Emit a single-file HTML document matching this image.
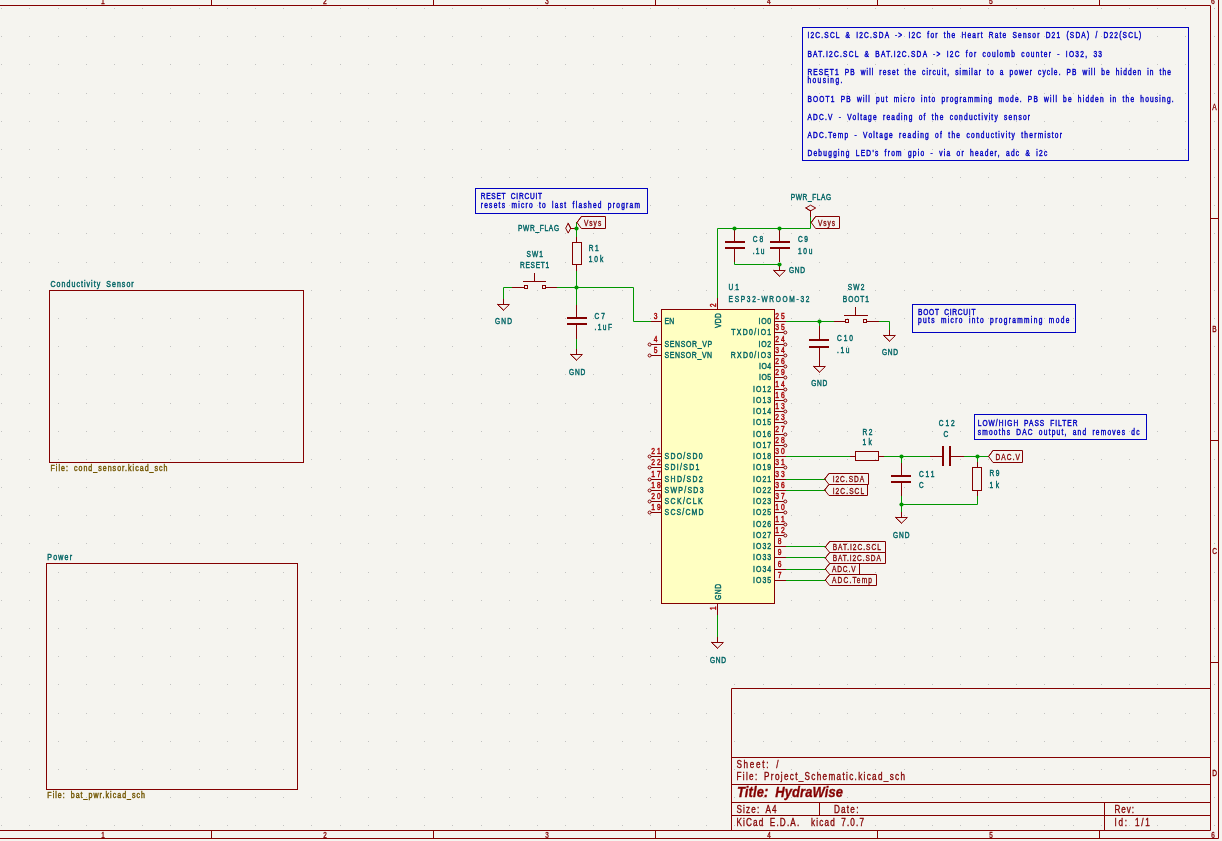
<!DOCTYPE html><html><head><meta charset="utf-8"><style>html,body{margin:0;padding:0;background:#F5F4EF;overflow:hidden}svg{display:block}text{font-family:"Liberation Sans",sans-serif}</style></head><body><div style="will-change:transform"><svg width="1222" height="841" viewBox="0 0 1222 841" font-family="Liberation Sans, sans-serif">
<rect width="1222" height="841" fill="#F5F4EF"/>
<path d="M1 8h1v1h-1zM1 36h1v1h-1zM1 64h1v1h-1zM1 93h1v1h-1zM1 121h1v1h-1zM1 149h1v1h-1zM1 177h1v1h-1zM1 205h1v1h-1zM1 233h1v1h-1zM1 262h1v1h-1zM1 290h1v1h-1zM1 318h1v1h-1zM1 346h1v1h-1zM1 374h1v1h-1zM1 403h1v1h-1zM1 431h1v1h-1zM1 459h1v1h-1zM1 487h1v1h-1zM1 515h1v1h-1zM1 543h1v1h-1zM1 572h1v1h-1zM1 600h1v1h-1zM1 628h1v1h-1zM1 656h1v1h-1zM1 684h1v1h-1zM1 713h1v1h-1zM1 741h1v1h-1zM1 769h1v1h-1zM1 797h1v1h-1zM1 825h1v1h-1zM29 8h1v1h-1zM29 36h1v1h-1zM29 64h1v1h-1zM29 93h1v1h-1zM29 121h1v1h-1zM29 149h1v1h-1zM29 177h1v1h-1zM29 205h1v1h-1zM29 233h1v1h-1zM29 262h1v1h-1zM29 290h1v1h-1zM29 318h1v1h-1zM29 346h1v1h-1zM29 374h1v1h-1zM29 403h1v1h-1zM29 431h1v1h-1zM29 459h1v1h-1zM29 487h1v1h-1zM29 515h1v1h-1zM29 543h1v1h-1zM29 572h1v1h-1zM29 600h1v1h-1zM29 628h1v1h-1zM29 656h1v1h-1zM29 684h1v1h-1zM29 713h1v1h-1zM29 741h1v1h-1zM29 769h1v1h-1zM29 797h1v1h-1zM29 825h1v1h-1zM58 8h1v1h-1zM58 36h1v1h-1zM58 64h1v1h-1zM58 93h1v1h-1zM58 121h1v1h-1zM58 149h1v1h-1zM58 177h1v1h-1zM58 205h1v1h-1zM58 233h1v1h-1zM58 262h1v1h-1zM58 290h1v1h-1zM58 318h1v1h-1zM58 346h1v1h-1zM58 374h1v1h-1zM58 403h1v1h-1zM58 431h1v1h-1zM58 459h1v1h-1zM58 487h1v1h-1zM58 515h1v1h-1zM58 543h1v1h-1zM58 572h1v1h-1zM58 600h1v1h-1zM58 628h1v1h-1zM58 656h1v1h-1zM58 684h1v1h-1zM58 713h1v1h-1zM58 741h1v1h-1zM58 769h1v1h-1zM58 797h1v1h-1zM58 825h1v1h-1zM86 8h1v1h-1zM86 36h1v1h-1zM86 64h1v1h-1zM86 93h1v1h-1zM86 121h1v1h-1zM86 149h1v1h-1zM86 177h1v1h-1zM86 205h1v1h-1zM86 233h1v1h-1zM86 262h1v1h-1zM86 290h1v1h-1zM86 318h1v1h-1zM86 346h1v1h-1zM86 374h1v1h-1zM86 403h1v1h-1zM86 431h1v1h-1zM86 459h1v1h-1zM86 487h1v1h-1zM86 515h1v1h-1zM86 543h1v1h-1zM86 572h1v1h-1zM86 600h1v1h-1zM86 628h1v1h-1zM86 656h1v1h-1zM86 684h1v1h-1zM86 713h1v1h-1zM86 741h1v1h-1zM86 769h1v1h-1zM86 797h1v1h-1zM86 825h1v1h-1zM114 8h1v1h-1zM114 36h1v1h-1zM114 64h1v1h-1zM114 93h1v1h-1zM114 121h1v1h-1zM114 149h1v1h-1zM114 177h1v1h-1zM114 205h1v1h-1zM114 233h1v1h-1zM114 262h1v1h-1zM114 290h1v1h-1zM114 318h1v1h-1zM114 346h1v1h-1zM114 374h1v1h-1zM114 403h1v1h-1zM114 431h1v1h-1zM114 459h1v1h-1zM114 487h1v1h-1zM114 515h1v1h-1zM114 543h1v1h-1zM114 572h1v1h-1zM114 600h1v1h-1zM114 628h1v1h-1zM114 656h1v1h-1zM114 684h1v1h-1zM114 713h1v1h-1zM114 741h1v1h-1zM114 769h1v1h-1zM114 797h1v1h-1zM114 825h1v1h-1zM142 8h1v1h-1zM142 36h1v1h-1zM142 64h1v1h-1zM142 93h1v1h-1zM142 121h1v1h-1zM142 149h1v1h-1zM142 177h1v1h-1zM142 205h1v1h-1zM142 233h1v1h-1zM142 262h1v1h-1zM142 290h1v1h-1zM142 318h1v1h-1zM142 346h1v1h-1zM142 374h1v1h-1zM142 403h1v1h-1zM142 431h1v1h-1zM142 459h1v1h-1zM142 487h1v1h-1zM142 515h1v1h-1zM142 543h1v1h-1zM142 572h1v1h-1zM142 600h1v1h-1zM142 628h1v1h-1zM142 656h1v1h-1zM142 684h1v1h-1zM142 713h1v1h-1zM142 741h1v1h-1zM142 769h1v1h-1zM142 797h1v1h-1zM142 825h1v1h-1zM170 8h1v1h-1zM170 36h1v1h-1zM170 64h1v1h-1zM170 93h1v1h-1zM170 121h1v1h-1zM170 149h1v1h-1zM170 177h1v1h-1zM170 205h1v1h-1zM170 233h1v1h-1zM170 262h1v1h-1zM170 290h1v1h-1zM170 318h1v1h-1zM170 346h1v1h-1zM170 374h1v1h-1zM170 403h1v1h-1zM170 431h1v1h-1zM170 459h1v1h-1zM170 487h1v1h-1zM170 515h1v1h-1zM170 543h1v1h-1zM170 572h1v1h-1zM170 600h1v1h-1zM170 628h1v1h-1zM170 656h1v1h-1zM170 684h1v1h-1zM170 713h1v1h-1zM170 741h1v1h-1zM170 769h1v1h-1zM170 797h1v1h-1zM170 825h1v1h-1zM199 8h1v1h-1zM199 36h1v1h-1zM199 64h1v1h-1zM199 93h1v1h-1zM199 121h1v1h-1zM199 149h1v1h-1zM199 177h1v1h-1zM199 205h1v1h-1zM199 233h1v1h-1zM199 262h1v1h-1zM199 290h1v1h-1zM199 318h1v1h-1zM199 346h1v1h-1zM199 374h1v1h-1zM199 403h1v1h-1zM199 431h1v1h-1zM199 459h1v1h-1zM199 487h1v1h-1zM199 515h1v1h-1zM199 543h1v1h-1zM199 572h1v1h-1zM199 600h1v1h-1zM199 628h1v1h-1zM199 656h1v1h-1zM199 684h1v1h-1zM199 713h1v1h-1zM199 741h1v1h-1zM199 769h1v1h-1zM199 797h1v1h-1zM199 825h1v1h-1zM227 8h1v1h-1zM227 36h1v1h-1zM227 64h1v1h-1zM227 93h1v1h-1zM227 121h1v1h-1zM227 149h1v1h-1zM227 177h1v1h-1zM227 205h1v1h-1zM227 233h1v1h-1zM227 262h1v1h-1zM227 290h1v1h-1zM227 318h1v1h-1zM227 346h1v1h-1zM227 374h1v1h-1zM227 403h1v1h-1zM227 431h1v1h-1zM227 459h1v1h-1zM227 487h1v1h-1zM227 515h1v1h-1zM227 543h1v1h-1zM227 572h1v1h-1zM227 600h1v1h-1zM227 628h1v1h-1zM227 656h1v1h-1zM227 684h1v1h-1zM227 713h1v1h-1zM227 741h1v1h-1zM227 769h1v1h-1zM227 797h1v1h-1zM227 825h1v1h-1zM255 8h1v1h-1zM255 36h1v1h-1zM255 64h1v1h-1zM255 93h1v1h-1zM255 121h1v1h-1zM255 149h1v1h-1zM255 177h1v1h-1zM255 205h1v1h-1zM255 233h1v1h-1zM255 262h1v1h-1zM255 290h1v1h-1zM255 318h1v1h-1zM255 346h1v1h-1zM255 374h1v1h-1zM255 403h1v1h-1zM255 431h1v1h-1zM255 459h1v1h-1zM255 487h1v1h-1zM255 515h1v1h-1zM255 543h1v1h-1zM255 572h1v1h-1zM255 600h1v1h-1zM255 628h1v1h-1zM255 656h1v1h-1zM255 684h1v1h-1zM255 713h1v1h-1zM255 741h1v1h-1zM255 769h1v1h-1zM255 797h1v1h-1zM255 825h1v1h-1zM283 8h1v1h-1zM283 36h1v1h-1zM283 64h1v1h-1zM283 93h1v1h-1zM283 121h1v1h-1zM283 149h1v1h-1zM283 177h1v1h-1zM283 205h1v1h-1zM283 233h1v1h-1zM283 262h1v1h-1zM283 290h1v1h-1zM283 318h1v1h-1zM283 346h1v1h-1zM283 374h1v1h-1zM283 403h1v1h-1zM283 431h1v1h-1zM283 459h1v1h-1zM283 487h1v1h-1zM283 515h1v1h-1zM283 543h1v1h-1zM283 572h1v1h-1zM283 600h1v1h-1zM283 628h1v1h-1zM283 656h1v1h-1zM283 684h1v1h-1zM283 713h1v1h-1zM283 741h1v1h-1zM283 769h1v1h-1zM283 797h1v1h-1zM283 825h1v1h-1zM311 8h1v1h-1zM311 36h1v1h-1zM311 64h1v1h-1zM311 93h1v1h-1zM311 121h1v1h-1zM311 149h1v1h-1zM311 177h1v1h-1zM311 205h1v1h-1zM311 233h1v1h-1zM311 262h1v1h-1zM311 290h1v1h-1zM311 318h1v1h-1zM311 346h1v1h-1zM311 374h1v1h-1zM311 403h1v1h-1zM311 431h1v1h-1zM311 459h1v1h-1zM311 487h1v1h-1zM311 515h1v1h-1zM311 543h1v1h-1zM311 572h1v1h-1zM311 600h1v1h-1zM311 628h1v1h-1zM311 656h1v1h-1zM311 684h1v1h-1zM311 713h1v1h-1zM311 741h1v1h-1zM311 769h1v1h-1zM311 797h1v1h-1zM311 825h1v1h-1zM340 8h1v1h-1zM340 36h1v1h-1zM340 64h1v1h-1zM340 93h1v1h-1zM340 121h1v1h-1zM340 149h1v1h-1zM340 177h1v1h-1zM340 205h1v1h-1zM340 233h1v1h-1zM340 262h1v1h-1zM340 290h1v1h-1zM340 318h1v1h-1zM340 346h1v1h-1zM340 374h1v1h-1zM340 403h1v1h-1zM340 431h1v1h-1zM340 459h1v1h-1zM340 487h1v1h-1zM340 515h1v1h-1zM340 543h1v1h-1zM340 572h1v1h-1zM340 600h1v1h-1zM340 628h1v1h-1zM340 656h1v1h-1zM340 684h1v1h-1zM340 713h1v1h-1zM340 741h1v1h-1zM340 769h1v1h-1zM340 797h1v1h-1zM340 825h1v1h-1zM368 8h1v1h-1zM368 36h1v1h-1zM368 64h1v1h-1zM368 93h1v1h-1zM368 121h1v1h-1zM368 149h1v1h-1zM368 177h1v1h-1zM368 205h1v1h-1zM368 233h1v1h-1zM368 262h1v1h-1zM368 290h1v1h-1zM368 318h1v1h-1zM368 346h1v1h-1zM368 374h1v1h-1zM368 403h1v1h-1zM368 431h1v1h-1zM368 459h1v1h-1zM368 487h1v1h-1zM368 515h1v1h-1zM368 543h1v1h-1zM368 572h1v1h-1zM368 600h1v1h-1zM368 628h1v1h-1zM368 656h1v1h-1zM368 684h1v1h-1zM368 713h1v1h-1zM368 741h1v1h-1zM368 769h1v1h-1zM368 797h1v1h-1zM368 825h1v1h-1zM396 8h1v1h-1zM396 36h1v1h-1zM396 64h1v1h-1zM396 93h1v1h-1zM396 121h1v1h-1zM396 149h1v1h-1zM396 177h1v1h-1zM396 205h1v1h-1zM396 233h1v1h-1zM396 262h1v1h-1zM396 290h1v1h-1zM396 318h1v1h-1zM396 346h1v1h-1zM396 374h1v1h-1zM396 403h1v1h-1zM396 431h1v1h-1zM396 459h1v1h-1zM396 487h1v1h-1zM396 515h1v1h-1zM396 543h1v1h-1zM396 572h1v1h-1zM396 600h1v1h-1zM396 628h1v1h-1zM396 656h1v1h-1zM396 684h1v1h-1zM396 713h1v1h-1zM396 741h1v1h-1zM396 769h1v1h-1zM396 797h1v1h-1zM396 825h1v1h-1zM424 8h1v1h-1zM424 36h1v1h-1zM424 64h1v1h-1zM424 93h1v1h-1zM424 121h1v1h-1zM424 149h1v1h-1zM424 177h1v1h-1zM424 205h1v1h-1zM424 233h1v1h-1zM424 262h1v1h-1zM424 290h1v1h-1zM424 318h1v1h-1zM424 346h1v1h-1zM424 374h1v1h-1zM424 403h1v1h-1zM424 431h1v1h-1zM424 459h1v1h-1zM424 487h1v1h-1zM424 515h1v1h-1zM424 543h1v1h-1zM424 572h1v1h-1zM424 600h1v1h-1zM424 628h1v1h-1zM424 656h1v1h-1zM424 684h1v1h-1zM424 713h1v1h-1zM424 741h1v1h-1zM424 769h1v1h-1zM424 797h1v1h-1zM424 825h1v1h-1zM452 8h1v1h-1zM452 36h1v1h-1zM452 64h1v1h-1zM452 93h1v1h-1zM452 121h1v1h-1zM452 149h1v1h-1zM452 177h1v1h-1zM452 205h1v1h-1zM452 233h1v1h-1zM452 262h1v1h-1zM452 290h1v1h-1zM452 318h1v1h-1zM452 346h1v1h-1zM452 374h1v1h-1zM452 403h1v1h-1zM452 431h1v1h-1zM452 459h1v1h-1zM452 487h1v1h-1zM452 515h1v1h-1zM452 543h1v1h-1zM452 572h1v1h-1zM452 600h1v1h-1zM452 628h1v1h-1zM452 656h1v1h-1zM452 684h1v1h-1zM452 713h1v1h-1zM452 741h1v1h-1zM452 769h1v1h-1zM452 797h1v1h-1zM452 825h1v1h-1zM481 8h1v1h-1zM481 36h1v1h-1zM481 64h1v1h-1zM481 93h1v1h-1zM481 121h1v1h-1zM481 149h1v1h-1zM481 177h1v1h-1zM481 205h1v1h-1zM481 233h1v1h-1zM481 262h1v1h-1zM481 290h1v1h-1zM481 318h1v1h-1zM481 346h1v1h-1zM481 374h1v1h-1zM481 403h1v1h-1zM481 431h1v1h-1zM481 459h1v1h-1zM481 487h1v1h-1zM481 515h1v1h-1zM481 543h1v1h-1zM481 572h1v1h-1zM481 600h1v1h-1zM481 628h1v1h-1zM481 656h1v1h-1zM481 684h1v1h-1zM481 713h1v1h-1zM481 741h1v1h-1zM481 769h1v1h-1zM481 797h1v1h-1zM481 825h1v1h-1zM509 8h1v1h-1zM509 36h1v1h-1zM509 64h1v1h-1zM509 93h1v1h-1zM509 121h1v1h-1zM509 149h1v1h-1zM509 177h1v1h-1zM509 205h1v1h-1zM509 233h1v1h-1zM509 262h1v1h-1zM509 290h1v1h-1zM509 318h1v1h-1zM509 346h1v1h-1zM509 374h1v1h-1zM509 403h1v1h-1zM509 431h1v1h-1zM509 459h1v1h-1zM509 487h1v1h-1zM509 515h1v1h-1zM509 543h1v1h-1zM509 572h1v1h-1zM509 600h1v1h-1zM509 628h1v1h-1zM509 656h1v1h-1zM509 684h1v1h-1zM509 713h1v1h-1zM509 741h1v1h-1zM509 769h1v1h-1zM509 797h1v1h-1zM509 825h1v1h-1zM537 8h1v1h-1zM537 36h1v1h-1zM537 64h1v1h-1zM537 93h1v1h-1zM537 121h1v1h-1zM537 149h1v1h-1zM537 177h1v1h-1zM537 205h1v1h-1zM537 233h1v1h-1zM537 262h1v1h-1zM537 290h1v1h-1zM537 318h1v1h-1zM537 346h1v1h-1zM537 374h1v1h-1zM537 403h1v1h-1zM537 431h1v1h-1zM537 459h1v1h-1zM537 487h1v1h-1zM537 515h1v1h-1zM537 543h1v1h-1zM537 572h1v1h-1zM537 600h1v1h-1zM537 628h1v1h-1zM537 656h1v1h-1zM537 684h1v1h-1zM537 713h1v1h-1zM537 741h1v1h-1zM537 769h1v1h-1zM537 797h1v1h-1zM537 825h1v1h-1zM565 8h1v1h-1zM565 36h1v1h-1zM565 64h1v1h-1zM565 93h1v1h-1zM565 121h1v1h-1zM565 149h1v1h-1zM565 177h1v1h-1zM565 205h1v1h-1zM565 233h1v1h-1zM565 262h1v1h-1zM565 290h1v1h-1zM565 318h1v1h-1zM565 346h1v1h-1zM565 374h1v1h-1zM565 403h1v1h-1zM565 431h1v1h-1zM565 459h1v1h-1zM565 487h1v1h-1zM565 515h1v1h-1zM565 543h1v1h-1zM565 572h1v1h-1zM565 600h1v1h-1zM565 628h1v1h-1zM565 656h1v1h-1zM565 684h1v1h-1zM565 713h1v1h-1zM565 741h1v1h-1zM565 769h1v1h-1zM565 797h1v1h-1zM565 825h1v1h-1zM593 8h1v1h-1zM593 36h1v1h-1zM593 64h1v1h-1zM593 93h1v1h-1zM593 121h1v1h-1zM593 149h1v1h-1zM593 177h1v1h-1zM593 205h1v1h-1zM593 233h1v1h-1zM593 262h1v1h-1zM593 290h1v1h-1zM593 318h1v1h-1zM593 346h1v1h-1zM593 374h1v1h-1zM593 403h1v1h-1zM593 431h1v1h-1zM593 459h1v1h-1zM593 487h1v1h-1zM593 515h1v1h-1zM593 543h1v1h-1zM593 572h1v1h-1zM593 600h1v1h-1zM593 628h1v1h-1zM593 656h1v1h-1zM593 684h1v1h-1zM593 713h1v1h-1zM593 741h1v1h-1zM593 769h1v1h-1zM593 797h1v1h-1zM593 825h1v1h-1zM622 8h1v1h-1zM622 36h1v1h-1zM622 64h1v1h-1zM622 93h1v1h-1zM622 121h1v1h-1zM622 149h1v1h-1zM622 177h1v1h-1zM622 205h1v1h-1zM622 233h1v1h-1zM622 262h1v1h-1zM622 290h1v1h-1zM622 318h1v1h-1zM622 346h1v1h-1zM622 374h1v1h-1zM622 403h1v1h-1zM622 431h1v1h-1zM622 459h1v1h-1zM622 487h1v1h-1zM622 515h1v1h-1zM622 543h1v1h-1zM622 572h1v1h-1zM622 600h1v1h-1zM622 628h1v1h-1zM622 656h1v1h-1zM622 684h1v1h-1zM622 713h1v1h-1zM622 741h1v1h-1zM622 769h1v1h-1zM622 797h1v1h-1zM622 825h1v1h-1zM650 8h1v1h-1zM650 36h1v1h-1zM650 64h1v1h-1zM650 93h1v1h-1zM650 121h1v1h-1zM650 149h1v1h-1zM650 177h1v1h-1zM650 205h1v1h-1zM650 233h1v1h-1zM650 262h1v1h-1zM650 290h1v1h-1zM650 318h1v1h-1zM650 346h1v1h-1zM650 374h1v1h-1zM650 403h1v1h-1zM650 431h1v1h-1zM650 459h1v1h-1zM650 487h1v1h-1zM650 515h1v1h-1zM650 543h1v1h-1zM650 572h1v1h-1zM650 600h1v1h-1zM650 628h1v1h-1zM650 656h1v1h-1zM650 684h1v1h-1zM650 713h1v1h-1zM650 741h1v1h-1zM650 769h1v1h-1zM650 797h1v1h-1zM650 825h1v1h-1zM678 8h1v1h-1zM678 36h1v1h-1zM678 64h1v1h-1zM678 93h1v1h-1zM678 121h1v1h-1zM678 149h1v1h-1zM678 177h1v1h-1zM678 205h1v1h-1zM678 233h1v1h-1zM678 262h1v1h-1zM678 290h1v1h-1zM678 318h1v1h-1zM678 346h1v1h-1zM678 374h1v1h-1zM678 403h1v1h-1zM678 431h1v1h-1zM678 459h1v1h-1zM678 487h1v1h-1zM678 515h1v1h-1zM678 543h1v1h-1zM678 572h1v1h-1zM678 600h1v1h-1zM678 628h1v1h-1zM678 656h1v1h-1zM678 684h1v1h-1zM678 713h1v1h-1zM678 741h1v1h-1zM678 769h1v1h-1zM678 797h1v1h-1zM678 825h1v1h-1zM706 8h1v1h-1zM706 36h1v1h-1zM706 64h1v1h-1zM706 93h1v1h-1zM706 121h1v1h-1zM706 149h1v1h-1zM706 177h1v1h-1zM706 205h1v1h-1zM706 233h1v1h-1zM706 262h1v1h-1zM706 290h1v1h-1zM706 318h1v1h-1zM706 346h1v1h-1zM706 374h1v1h-1zM706 403h1v1h-1zM706 431h1v1h-1zM706 459h1v1h-1zM706 487h1v1h-1zM706 515h1v1h-1zM706 543h1v1h-1zM706 572h1v1h-1zM706 600h1v1h-1zM706 628h1v1h-1zM706 656h1v1h-1zM706 684h1v1h-1zM706 713h1v1h-1zM706 741h1v1h-1zM706 769h1v1h-1zM706 797h1v1h-1zM706 825h1v1h-1zM734 8h1v1h-1zM734 36h1v1h-1zM734 64h1v1h-1zM734 93h1v1h-1zM734 121h1v1h-1zM734 149h1v1h-1zM734 177h1v1h-1zM734 205h1v1h-1zM734 233h1v1h-1zM734 262h1v1h-1zM734 290h1v1h-1zM734 318h1v1h-1zM734 346h1v1h-1zM734 374h1v1h-1zM734 403h1v1h-1zM734 431h1v1h-1zM734 459h1v1h-1zM734 487h1v1h-1zM734 515h1v1h-1zM734 543h1v1h-1zM734 572h1v1h-1zM734 600h1v1h-1zM734 628h1v1h-1zM734 656h1v1h-1zM734 684h1v1h-1zM734 713h1v1h-1zM734 741h1v1h-1zM734 769h1v1h-1zM734 797h1v1h-1zM734 825h1v1h-1zM763 8h1v1h-1zM763 36h1v1h-1zM763 64h1v1h-1zM763 93h1v1h-1zM763 121h1v1h-1zM763 149h1v1h-1zM763 177h1v1h-1zM763 205h1v1h-1zM763 233h1v1h-1zM763 262h1v1h-1zM763 290h1v1h-1zM763 318h1v1h-1zM763 346h1v1h-1zM763 374h1v1h-1zM763 403h1v1h-1zM763 431h1v1h-1zM763 459h1v1h-1zM763 487h1v1h-1zM763 515h1v1h-1zM763 543h1v1h-1zM763 572h1v1h-1zM763 600h1v1h-1zM763 628h1v1h-1zM763 656h1v1h-1zM763 684h1v1h-1zM763 713h1v1h-1zM763 741h1v1h-1zM763 769h1v1h-1zM763 797h1v1h-1zM763 825h1v1h-1zM791 8h1v1h-1zM791 36h1v1h-1zM791 64h1v1h-1zM791 93h1v1h-1zM791 121h1v1h-1zM791 149h1v1h-1zM791 177h1v1h-1zM791 205h1v1h-1zM791 233h1v1h-1zM791 262h1v1h-1zM791 290h1v1h-1zM791 318h1v1h-1zM791 346h1v1h-1zM791 374h1v1h-1zM791 403h1v1h-1zM791 431h1v1h-1zM791 459h1v1h-1zM791 487h1v1h-1zM791 515h1v1h-1zM791 543h1v1h-1zM791 572h1v1h-1zM791 600h1v1h-1zM791 628h1v1h-1zM791 656h1v1h-1zM791 684h1v1h-1zM791 713h1v1h-1zM791 741h1v1h-1zM791 769h1v1h-1zM791 797h1v1h-1zM791 825h1v1h-1zM819 8h1v1h-1zM819 36h1v1h-1zM819 64h1v1h-1zM819 93h1v1h-1zM819 121h1v1h-1zM819 149h1v1h-1zM819 177h1v1h-1zM819 205h1v1h-1zM819 233h1v1h-1zM819 262h1v1h-1zM819 290h1v1h-1zM819 318h1v1h-1zM819 346h1v1h-1zM819 374h1v1h-1zM819 403h1v1h-1zM819 431h1v1h-1zM819 459h1v1h-1zM819 487h1v1h-1zM819 515h1v1h-1zM819 543h1v1h-1zM819 572h1v1h-1zM819 600h1v1h-1zM819 628h1v1h-1zM819 656h1v1h-1zM819 684h1v1h-1zM819 713h1v1h-1zM819 741h1v1h-1zM819 769h1v1h-1zM819 797h1v1h-1zM819 825h1v1h-1zM847 8h1v1h-1zM847 36h1v1h-1zM847 64h1v1h-1zM847 93h1v1h-1zM847 121h1v1h-1zM847 149h1v1h-1zM847 177h1v1h-1zM847 205h1v1h-1zM847 233h1v1h-1zM847 262h1v1h-1zM847 290h1v1h-1zM847 318h1v1h-1zM847 346h1v1h-1zM847 374h1v1h-1zM847 403h1v1h-1zM847 431h1v1h-1zM847 459h1v1h-1zM847 487h1v1h-1zM847 515h1v1h-1zM847 543h1v1h-1zM847 572h1v1h-1zM847 600h1v1h-1zM847 628h1v1h-1zM847 656h1v1h-1zM847 684h1v1h-1zM847 713h1v1h-1zM847 741h1v1h-1zM847 769h1v1h-1zM847 797h1v1h-1zM847 825h1v1h-1zM875 8h1v1h-1zM875 36h1v1h-1zM875 64h1v1h-1zM875 93h1v1h-1zM875 121h1v1h-1zM875 149h1v1h-1zM875 177h1v1h-1zM875 205h1v1h-1zM875 233h1v1h-1zM875 262h1v1h-1zM875 290h1v1h-1zM875 318h1v1h-1zM875 346h1v1h-1zM875 374h1v1h-1zM875 403h1v1h-1zM875 431h1v1h-1zM875 459h1v1h-1zM875 487h1v1h-1zM875 515h1v1h-1zM875 543h1v1h-1zM875 572h1v1h-1zM875 600h1v1h-1zM875 628h1v1h-1zM875 656h1v1h-1zM875 684h1v1h-1zM875 713h1v1h-1zM875 741h1v1h-1zM875 769h1v1h-1zM875 797h1v1h-1zM875 825h1v1h-1zM904 8h1v1h-1zM904 36h1v1h-1zM904 64h1v1h-1zM904 93h1v1h-1zM904 121h1v1h-1zM904 149h1v1h-1zM904 177h1v1h-1zM904 205h1v1h-1zM904 233h1v1h-1zM904 262h1v1h-1zM904 290h1v1h-1zM904 318h1v1h-1zM904 346h1v1h-1zM904 374h1v1h-1zM904 403h1v1h-1zM904 431h1v1h-1zM904 459h1v1h-1zM904 487h1v1h-1zM904 515h1v1h-1zM904 543h1v1h-1zM904 572h1v1h-1zM904 600h1v1h-1zM904 628h1v1h-1zM904 656h1v1h-1zM904 684h1v1h-1zM904 713h1v1h-1zM904 741h1v1h-1zM904 769h1v1h-1zM904 797h1v1h-1zM904 825h1v1h-1zM932 8h1v1h-1zM932 36h1v1h-1zM932 64h1v1h-1zM932 93h1v1h-1zM932 121h1v1h-1zM932 149h1v1h-1zM932 177h1v1h-1zM932 205h1v1h-1zM932 233h1v1h-1zM932 262h1v1h-1zM932 290h1v1h-1zM932 318h1v1h-1zM932 346h1v1h-1zM932 374h1v1h-1zM932 403h1v1h-1zM932 431h1v1h-1zM932 459h1v1h-1zM932 487h1v1h-1zM932 515h1v1h-1zM932 543h1v1h-1zM932 572h1v1h-1zM932 600h1v1h-1zM932 628h1v1h-1zM932 656h1v1h-1zM932 684h1v1h-1zM932 713h1v1h-1zM932 741h1v1h-1zM932 769h1v1h-1zM932 797h1v1h-1zM932 825h1v1h-1zM960 8h1v1h-1zM960 36h1v1h-1zM960 64h1v1h-1zM960 93h1v1h-1zM960 121h1v1h-1zM960 149h1v1h-1zM960 177h1v1h-1zM960 205h1v1h-1zM960 233h1v1h-1zM960 262h1v1h-1zM960 290h1v1h-1zM960 318h1v1h-1zM960 346h1v1h-1zM960 374h1v1h-1zM960 403h1v1h-1zM960 431h1v1h-1zM960 459h1v1h-1zM960 487h1v1h-1zM960 515h1v1h-1zM960 543h1v1h-1zM960 572h1v1h-1zM960 600h1v1h-1zM960 628h1v1h-1zM960 656h1v1h-1zM960 684h1v1h-1zM960 713h1v1h-1zM960 741h1v1h-1zM960 769h1v1h-1zM960 797h1v1h-1zM960 825h1v1h-1zM988 8h1v1h-1zM988 36h1v1h-1zM988 64h1v1h-1zM988 93h1v1h-1zM988 121h1v1h-1zM988 149h1v1h-1zM988 177h1v1h-1zM988 205h1v1h-1zM988 233h1v1h-1zM988 262h1v1h-1zM988 290h1v1h-1zM988 318h1v1h-1zM988 346h1v1h-1zM988 374h1v1h-1zM988 403h1v1h-1zM988 431h1v1h-1zM988 459h1v1h-1zM988 487h1v1h-1zM988 515h1v1h-1zM988 543h1v1h-1zM988 572h1v1h-1zM988 600h1v1h-1zM988 628h1v1h-1zM988 656h1v1h-1zM988 684h1v1h-1zM988 713h1v1h-1zM988 741h1v1h-1zM988 769h1v1h-1zM988 797h1v1h-1zM988 825h1v1h-1zM1016 8h1v1h-1zM1016 36h1v1h-1zM1016 64h1v1h-1zM1016 93h1v1h-1zM1016 121h1v1h-1zM1016 149h1v1h-1zM1016 177h1v1h-1zM1016 205h1v1h-1zM1016 233h1v1h-1zM1016 262h1v1h-1zM1016 290h1v1h-1zM1016 318h1v1h-1zM1016 346h1v1h-1zM1016 374h1v1h-1zM1016 403h1v1h-1zM1016 431h1v1h-1zM1016 459h1v1h-1zM1016 487h1v1h-1zM1016 515h1v1h-1zM1016 543h1v1h-1zM1016 572h1v1h-1zM1016 600h1v1h-1zM1016 628h1v1h-1zM1016 656h1v1h-1zM1016 684h1v1h-1zM1016 713h1v1h-1zM1016 741h1v1h-1zM1016 769h1v1h-1zM1016 797h1v1h-1zM1016 825h1v1h-1zM1044 8h1v1h-1zM1044 36h1v1h-1zM1044 64h1v1h-1zM1044 93h1v1h-1zM1044 121h1v1h-1zM1044 149h1v1h-1zM1044 177h1v1h-1zM1044 205h1v1h-1zM1044 233h1v1h-1zM1044 262h1v1h-1zM1044 290h1v1h-1zM1044 318h1v1h-1zM1044 346h1v1h-1zM1044 374h1v1h-1zM1044 403h1v1h-1zM1044 431h1v1h-1zM1044 459h1v1h-1zM1044 487h1v1h-1zM1044 515h1v1h-1zM1044 543h1v1h-1zM1044 572h1v1h-1zM1044 600h1v1h-1zM1044 628h1v1h-1zM1044 656h1v1h-1zM1044 684h1v1h-1zM1044 713h1v1h-1zM1044 741h1v1h-1zM1044 769h1v1h-1zM1044 797h1v1h-1zM1044 825h1v1h-1zM1073 8h1v1h-1zM1073 36h1v1h-1zM1073 64h1v1h-1zM1073 93h1v1h-1zM1073 121h1v1h-1zM1073 149h1v1h-1zM1073 177h1v1h-1zM1073 205h1v1h-1zM1073 233h1v1h-1zM1073 262h1v1h-1zM1073 290h1v1h-1zM1073 318h1v1h-1zM1073 346h1v1h-1zM1073 374h1v1h-1zM1073 403h1v1h-1zM1073 431h1v1h-1zM1073 459h1v1h-1zM1073 487h1v1h-1zM1073 515h1v1h-1zM1073 543h1v1h-1zM1073 572h1v1h-1zM1073 600h1v1h-1zM1073 628h1v1h-1zM1073 656h1v1h-1zM1073 684h1v1h-1zM1073 713h1v1h-1zM1073 741h1v1h-1zM1073 769h1v1h-1zM1073 797h1v1h-1zM1073 825h1v1h-1zM1101 8h1v1h-1zM1101 36h1v1h-1zM1101 64h1v1h-1zM1101 93h1v1h-1zM1101 121h1v1h-1zM1101 149h1v1h-1zM1101 177h1v1h-1zM1101 205h1v1h-1zM1101 233h1v1h-1zM1101 262h1v1h-1zM1101 290h1v1h-1zM1101 318h1v1h-1zM1101 346h1v1h-1zM1101 374h1v1h-1zM1101 403h1v1h-1zM1101 431h1v1h-1zM1101 459h1v1h-1zM1101 487h1v1h-1zM1101 515h1v1h-1zM1101 543h1v1h-1zM1101 572h1v1h-1zM1101 600h1v1h-1zM1101 628h1v1h-1zM1101 656h1v1h-1zM1101 684h1v1h-1zM1101 713h1v1h-1zM1101 741h1v1h-1zM1101 769h1v1h-1zM1101 797h1v1h-1zM1101 825h1v1h-1zM1129 8h1v1h-1zM1129 36h1v1h-1zM1129 64h1v1h-1zM1129 93h1v1h-1zM1129 121h1v1h-1zM1129 149h1v1h-1zM1129 177h1v1h-1zM1129 205h1v1h-1zM1129 233h1v1h-1zM1129 262h1v1h-1zM1129 290h1v1h-1zM1129 318h1v1h-1zM1129 346h1v1h-1zM1129 374h1v1h-1zM1129 403h1v1h-1zM1129 431h1v1h-1zM1129 459h1v1h-1zM1129 487h1v1h-1zM1129 515h1v1h-1zM1129 543h1v1h-1zM1129 572h1v1h-1zM1129 600h1v1h-1zM1129 628h1v1h-1zM1129 656h1v1h-1zM1129 684h1v1h-1zM1129 713h1v1h-1zM1129 741h1v1h-1zM1129 769h1v1h-1zM1129 797h1v1h-1zM1129 825h1v1h-1zM1157 8h1v1h-1zM1157 36h1v1h-1zM1157 64h1v1h-1zM1157 93h1v1h-1zM1157 121h1v1h-1zM1157 149h1v1h-1zM1157 177h1v1h-1zM1157 205h1v1h-1zM1157 233h1v1h-1zM1157 262h1v1h-1zM1157 290h1v1h-1zM1157 318h1v1h-1zM1157 346h1v1h-1zM1157 374h1v1h-1zM1157 403h1v1h-1zM1157 431h1v1h-1zM1157 459h1v1h-1zM1157 487h1v1h-1zM1157 515h1v1h-1zM1157 543h1v1h-1zM1157 572h1v1h-1zM1157 600h1v1h-1zM1157 628h1v1h-1zM1157 656h1v1h-1zM1157 684h1v1h-1zM1157 713h1v1h-1zM1157 741h1v1h-1zM1157 769h1v1h-1zM1157 797h1v1h-1zM1157 825h1v1h-1zM1185 8h1v1h-1zM1185 36h1v1h-1zM1185 64h1v1h-1zM1185 93h1v1h-1zM1185 121h1v1h-1zM1185 149h1v1h-1zM1185 177h1v1h-1zM1185 205h1v1h-1zM1185 233h1v1h-1zM1185 262h1v1h-1zM1185 290h1v1h-1zM1185 318h1v1h-1zM1185 346h1v1h-1zM1185 374h1v1h-1zM1185 403h1v1h-1zM1185 431h1v1h-1zM1185 459h1v1h-1zM1185 487h1v1h-1zM1185 515h1v1h-1zM1185 543h1v1h-1zM1185 572h1v1h-1zM1185 600h1v1h-1zM1185 628h1v1h-1zM1185 656h1v1h-1zM1185 684h1v1h-1zM1185 713h1v1h-1zM1185 741h1v1h-1zM1185 769h1v1h-1zM1185 797h1v1h-1zM1185 825h1v1h-1zM1214 8h1v1h-1zM1214 36h1v1h-1zM1214 64h1v1h-1zM1214 93h1v1h-1zM1214 121h1v1h-1zM1214 149h1v1h-1zM1214 177h1v1h-1zM1214 205h1v1h-1zM1214 233h1v1h-1zM1214 262h1v1h-1zM1214 290h1v1h-1zM1214 318h1v1h-1zM1214 346h1v1h-1zM1214 374h1v1h-1zM1214 403h1v1h-1zM1214 431h1v1h-1zM1214 459h1v1h-1zM1214 487h1v1h-1zM1214 515h1v1h-1zM1214 543h1v1h-1zM1214 572h1v1h-1zM1214 600h1v1h-1zM1214 628h1v1h-1zM1214 656h1v1h-1zM1214 684h1v1h-1zM1214 713h1v1h-1zM1214 741h1v1h-1zM1214 769h1v1h-1zM1214 797h1v1h-1zM1214 825h1v1h-1z" fill="#C2C2C0"/>
<path d="M0.50 5.50 L1210.50 5.50 L1210.50 830.50 L0.50 830.50" stroke="#840000" stroke-width="1.00" fill="none" stroke-linejoin="miter" stroke-linecap="square"/>
<path d="M1218.50 -4.50 L1218.50 838.50 L0.50 838.50" stroke="#840000" stroke-width="1.00" fill="none" stroke-linejoin="miter" stroke-linecap="square"/>
<path d="M211.50 -4.50 L211.50 5.50" stroke="#840000" stroke-width="1.00" fill="none" stroke-linejoin="miter" stroke-linecap="square"/>
<path d="M211.50 830.50 L211.50 838.50" stroke="#840000" stroke-width="1.00" fill="none" stroke-linejoin="miter" stroke-linecap="square"/>
<path d="M433.50 -4.50 L433.50 5.50" stroke="#840000" stroke-width="1.00" fill="none" stroke-linejoin="miter" stroke-linecap="square"/>
<path d="M433.50 830.50 L433.50 838.50" stroke="#840000" stroke-width="1.00" fill="none" stroke-linejoin="miter" stroke-linecap="square"/>
<path d="M655.50 -4.50 L655.50 5.50" stroke="#840000" stroke-width="1.00" fill="none" stroke-linejoin="miter" stroke-linecap="square"/>
<path d="M655.50 830.50 L655.50 838.50" stroke="#840000" stroke-width="1.00" fill="none" stroke-linejoin="miter" stroke-linecap="square"/>
<path d="M877.50 -4.50 L877.50 5.50" stroke="#840000" stroke-width="1.00" fill="none" stroke-linejoin="miter" stroke-linecap="square"/>
<path d="M877.50 830.50 L877.50 838.50" stroke="#840000" stroke-width="1.00" fill="none" stroke-linejoin="miter" stroke-linecap="square"/>
<path d="M1099.50 -4.50 L1099.50 5.50" stroke="#840000" stroke-width="1.00" fill="none" stroke-linejoin="miter" stroke-linecap="square"/>
<path d="M1099.50 830.50 L1099.50 838.50" stroke="#840000" stroke-width="1.00" fill="none" stroke-linejoin="miter" stroke-linecap="square"/>
<path d="M1210.50 218.50 L1218.50 218.50" stroke="#840000" stroke-width="1.00" fill="none" stroke-linejoin="miter" stroke-linecap="square"/>
<path d="M1210.50 440.50 L1218.50 440.50" stroke="#840000" stroke-width="1.00" fill="none" stroke-linejoin="miter" stroke-linecap="square"/>
<path d="M1210.50 662.50 L1218.50 662.50" stroke="#840000" stroke-width="1.00" fill="none" stroke-linejoin="miter" stroke-linecap="square"/>
<text transform="translate(103.00 4.00) scale(0.780 1)" x="0" y="0" font-size="8.72" fill="#840000" stroke="#840000" stroke-width="0.35" text-anchor="middle" >1</text>
<text transform="translate(103.00 837.50) scale(0.780 1)" x="0" y="0" font-size="8.14" fill="#840000" stroke="#840000" stroke-width="0.35" text-anchor="middle" >1</text>
<text transform="translate(325.00 4.00) scale(0.780 1)" x="0" y="0" font-size="8.72" fill="#840000" stroke="#840000" stroke-width="0.35" text-anchor="middle" >2</text>
<text transform="translate(325.00 837.50) scale(0.780 1)" x="0" y="0" font-size="8.14" fill="#840000" stroke="#840000" stroke-width="0.35" text-anchor="middle" >2</text>
<text transform="translate(547.00 4.00) scale(0.780 1)" x="0" y="0" font-size="8.72" fill="#840000" stroke="#840000" stroke-width="0.35" text-anchor="middle" >3</text>
<text transform="translate(547.00 837.50) scale(0.780 1)" x="0" y="0" font-size="8.14" fill="#840000" stroke="#840000" stroke-width="0.35" text-anchor="middle" >3</text>
<text transform="translate(769.00 4.00) scale(0.780 1)" x="0" y="0" font-size="8.72" fill="#840000" stroke="#840000" stroke-width="0.35" text-anchor="middle" >4</text>
<text transform="translate(769.00 837.50) scale(0.780 1)" x="0" y="0" font-size="8.14" fill="#840000" stroke="#840000" stroke-width="0.35" text-anchor="middle" >4</text>
<text transform="translate(991.00 4.00) scale(0.780 1)" x="0" y="0" font-size="8.72" fill="#840000" stroke="#840000" stroke-width="0.35" text-anchor="middle" >5</text>
<text transform="translate(991.00 837.50) scale(0.780 1)" x="0" y="0" font-size="8.14" fill="#840000" stroke="#840000" stroke-width="0.35" text-anchor="middle" >5</text>
<text transform="translate(1213.00 4.00) scale(0.780 1)" x="0" y="0" font-size="8.72" fill="#840000" stroke="#840000" stroke-width="0.35" text-anchor="middle" >6</text>
<text transform="translate(1213.00 837.50) scale(0.780 1)" x="0" y="0" font-size="8.14" fill="#840000" stroke="#840000" stroke-width="0.35" text-anchor="middle" >6</text>
<text transform="translate(1214.50 110.00) scale(0.780 1)" x="0" y="0" font-size="8.43" fill="#840000" stroke="#840000" stroke-width="0.35" text-anchor="middle" >A</text>
<text transform="translate(1214.50 332.00) scale(0.780 1)" x="0" y="0" font-size="8.43" fill="#840000" stroke="#840000" stroke-width="0.35" text-anchor="middle" >B</text>
<text transform="translate(1214.50 554.00) scale(0.780 1)" x="0" y="0" font-size="8.43" fill="#840000" stroke="#840000" stroke-width="0.35" text-anchor="middle" >C</text>
<text transform="translate(1214.50 776.00) scale(0.780 1)" x="0" y="0" font-size="8.43" fill="#840000" stroke="#840000" stroke-width="0.35" text-anchor="middle" >D</text>
<path d="M731.50 830.50 L731.50 688.50 L1210.50 688.50" stroke="#840000" stroke-width="1.00" fill="none" stroke-linejoin="miter" stroke-linecap="square"/>
<path d="M731.50 757.50 L1210.50 757.50" stroke="#840000" stroke-width="1.00" fill="none" stroke-linejoin="miter" stroke-linecap="square"/>
<path d="M731.50 784.50 L1210.50 784.50" stroke="#840000" stroke-width="1.00" fill="none" stroke-linejoin="miter" stroke-linecap="square"/>
<path d="M731.50 802.50 L1210.50 802.50" stroke="#840000" stroke-width="1.00" fill="none" stroke-linejoin="miter" stroke-linecap="square"/>
<path d="M731.50 815.50 L1210.50 815.50" stroke="#840000" stroke-width="1.00" fill="none" stroke-linejoin="miter" stroke-linecap="square"/>
<path d="M819.50 802.50 L819.50 815.50" stroke="#840000" stroke-width="1.00" fill="none" stroke-linejoin="miter" stroke-linecap="square"/>
<path d="M1104.50 802.50 L1104.50 830.50" stroke="#840000" stroke-width="1.00" fill="none" stroke-linejoin="miter" stroke-linecap="square"/>
<text transform="translate(736.50 767.80) scale(0.780 1)" x="0" y="0" font-size="10.47" fill="#840000" stroke="#840000" stroke-width="0.35" word-spacing="2.56" textLength="53.72" lengthAdjust="spacing" >Sheet: /</text>
<text transform="translate(736.50 780.20) scale(0.780 1)" x="0" y="0" font-size="10.47" fill="#840000" stroke="#840000" stroke-width="0.35" word-spacing="2.56" textLength="216.03" lengthAdjust="spacing" >File: Project_Schematic.kicad_sch</text>
<text transform="translate(737.00 797.30) scale(0.850 1)" x="0" y="0" font-size="15.26" fill="#840000" stroke="#840000" stroke-width="0.35" word-spacing="3.53" textLength="124.71" lengthAdjust="spacing" font-weight="bold" font-style="italic">Title: HydraWise</text>
<text transform="translate(736.50 813.00) scale(0.780 1)" x="0" y="0" font-size="10.47" fill="#840000" stroke="#840000" stroke-width="0.35" word-spacing="2.56" textLength="51.41" lengthAdjust="spacing" >Size: A4</text>
<text transform="translate(834.00 813.00) scale(0.780 1)" x="0" y="0" font-size="10.47" fill="#840000" stroke="#840000" stroke-width="0.35" textLength="31.28" lengthAdjust="spacing" >Date:</text>
<text transform="translate(736.50 825.50) scale(0.780 1)" x="0" y="0" font-size="10.47" fill="#840000" stroke="#840000" stroke-width="0.35" word-spacing="2.56" textLength="163.46" lengthAdjust="spacing" >KiCad E.D.A.  kicad 7.0.7</text>
<text transform="translate(1114.40 813.00) scale(0.780 1)" x="0" y="0" font-size="10.47" fill="#840000" stroke="#840000" stroke-width="0.35" textLength="25.13" lengthAdjust="spacing" >Rev:</text>
<text transform="translate(1114.40 825.80) scale(0.780 1)" x="0" y="0" font-size="10.47" fill="#840000" stroke="#840000" stroke-width="0.35" word-spacing="2.56" textLength="45.38" lengthAdjust="spacing" >Id: 1/1</text>
<rect x="49.50" y="290.50" width="254.00" height="172.00" stroke="#840000" stroke-width="1.00" fill="none"/>
<text transform="translate(50.50 287.00) scale(0.780 1)" x="0" y="0" font-size="9.01" fill="#006464" stroke="#006464" stroke-width="0.45" word-spacing="2.56" textLength="106.67" lengthAdjust="spacing" >Conductivity Sensor</text>
<text transform="translate(50.50 470.80) scale(0.780 1)" x="0" y="0" font-size="9.01" fill="#725600" stroke="#725600" stroke-width="0.45" word-spacing="2.56" textLength="150.00" lengthAdjust="spacing" >File: cond_sensor.kicad_sch</text>
<rect x="46.50" y="563.50" width="251.00" height="226.00" stroke="#840000" stroke-width="1.00" fill="none"/>
<text transform="translate(47.30 560.00) scale(0.780 1)" x="0" y="0" font-size="9.01" fill="#006464" stroke="#006464" stroke-width="0.45" textLength="31.67" lengthAdjust="spacing" >Power</text>
<text transform="translate(47.30 797.60) scale(0.780 1)" x="0" y="0" font-size="9.01" fill="#725600" stroke="#725600" stroke-width="0.45" word-spacing="2.56" textLength="125.26" lengthAdjust="spacing" >File: bat_pwr.kicad_sch</text>
<rect x="802.50" y="27.50" width="386.00" height="133.00" stroke="#0000C2" stroke-width="1.00" fill="none"/>
<text transform="translate(807.40 38.10) scale(0.780 1)" x="0" y="0" font-size="8.43" fill="#0000C2" stroke="#0000C2" stroke-width="0.45" word-spacing="2.56" textLength="427.95" lengthAdjust="spacing" >I2C.SCL &amp; I2C.SDA -&gt; I2C for the Heart Rate Sensor D21 (SDA) / D22(SCL)</text>
<text transform="translate(807.40 56.60) scale(0.780 1)" x="0" y="0" font-size="8.43" fill="#0000C2" stroke="#0000C2" stroke-width="0.45" word-spacing="2.56" textLength="377.69" lengthAdjust="spacing" >BAT.I2C.SCL &amp; BAT.I2C.SDA -&gt; I2C for coulomb counter - IO32, 33</text>
<text transform="translate(807.40 75.00) scale(0.780 1)" x="0" y="0" font-size="8.43" fill="#0000C2" stroke="#0000C2" stroke-width="0.45" word-spacing="2.56" textLength="466.15" lengthAdjust="spacing" >RESET1 PB will reset the circuit, similar to a power cycle. PB will be hidden in the</text>
<text transform="translate(807.40 83.40) scale(0.780 1)" x="0" y="0" font-size="8.43" fill="#0000C2" stroke="#0000C2" stroke-width="0.45" textLength="44.87" lengthAdjust="spacing" >housing.</text>
<text transform="translate(807.40 101.90) scale(0.780 1)" x="0" y="0" font-size="8.43" fill="#0000C2" stroke="#0000C2" stroke-width="0.45" word-spacing="2.56" textLength="469.49" lengthAdjust="spacing" >BOOT1 PB will put micro into programming mode. PB will be hidden in the housing.</text>
<text transform="translate(807.40 120.00) scale(0.780 1)" x="0" y="0" font-size="8.43" fill="#0000C2" stroke="#0000C2" stroke-width="0.45" word-spacing="2.56" textLength="285.38" lengthAdjust="spacing" >ADC.V - Voltage reading of the conductivity sensor</text>
<text transform="translate(807.40 138.30) scale(0.780 1)" x="0" y="0" font-size="8.43" fill="#0000C2" stroke="#0000C2" stroke-width="0.45" word-spacing="2.56" textLength="326.41" lengthAdjust="spacing" >ADC.Temp - Voltage reading of the conductivity thermistor</text>
<text transform="translate(807.40 156.40) scale(0.780 1)" x="0" y="0" font-size="8.43" fill="#0000C2" stroke="#0000C2" stroke-width="0.45" word-spacing="2.56" textLength="307.44" lengthAdjust="spacing" >Debugging LED's from gpio - via or header, adc &amp; i2c</text>
<rect x="475.50" y="188.50" width="172.00" height="25.00" stroke="#0000C2" stroke-width="1.00" fill="none"/>
<text transform="translate(480.70 199.00) scale(0.780 1)" x="0" y="0" font-size="8.43" fill="#0000C2" stroke="#0000C2" stroke-width="0.45" word-spacing="2.56" textLength="78.59" lengthAdjust="spacing" >RESET CIRCUIT</text>
<text transform="translate(480.70 207.60) scale(0.780 1)" x="0" y="0" font-size="8.43" fill="#0000C2" stroke="#0000C2" stroke-width="0.45" word-spacing="2.56" textLength="204.23" lengthAdjust="spacing" >resets micro to last flashed program</text>
<rect x="912.50" y="304.50" width="163.00" height="28.00" stroke="#0000C2" stroke-width="1.00" fill="none"/>
<text transform="translate(918.00 314.50) scale(0.780 1)" x="0" y="0" font-size="8.43" fill="#0000C2" stroke="#0000C2" stroke-width="0.45" word-spacing="2.56" textLength="73.72" lengthAdjust="spacing" >BOOT CIRCUIT</text>
<text transform="translate(918.00 323.20) scale(0.780 1)" x="0" y="0" font-size="8.43" fill="#0000C2" stroke="#0000C2" stroke-width="0.45" word-spacing="2.56" textLength="193.97" lengthAdjust="spacing" >puts micro into programming mode</text>
<rect x="974.50" y="414.50" width="172.00" height="25.00" stroke="#0000C2" stroke-width="1.00" fill="none"/>
<text transform="translate(977.70 426.00) scale(0.780 1)" x="0" y="0" font-size="8.43" fill="#0000C2" stroke="#0000C2" stroke-width="0.45" word-spacing="2.56" textLength="127.95" lengthAdjust="spacing" >LOW/HIGH PASS FILTER</text>
<text transform="translate(977.70 434.60) scale(0.780 1)" x="0" y="0" font-size="8.43" fill="#0000C2" stroke="#0000C2" stroke-width="0.45" word-spacing="2.56" textLength="207.44" lengthAdjust="spacing" >smooths DAC output, and removes dc</text>
<path d="M503.50 299.50 L503.50 287.50 L512.50 287.50" stroke="#009600" stroke-width="1.00" fill="none" stroke-linejoin="miter" stroke-linecap="square"/>
<path d="M556.50 287.50 L633.50 287.50 L633.50 321.50 L651.50 321.50" stroke="#009600" stroke-width="1.00" fill="none" stroke-linejoin="miter" stroke-linecap="square"/>
<path d="M576.50 222.50 L576.50 237.50" stroke="#009600" stroke-width="1.00" fill="none" stroke-linejoin="miter" stroke-linecap="square"/>
<path d="M576.50 270.50 L576.50 305.50" stroke="#009600" stroke-width="1.00" fill="none" stroke-linejoin="miter" stroke-linecap="square"/>
<path d="M576.50 338.50 L576.50 350.50" stroke="#009600" stroke-width="1.00" fill="none" stroke-linejoin="miter" stroke-linecap="square"/>
<path d="M810.50 216.50 L810.50 228.50 L717.50 228.50 L717.50 298.50" stroke="#009600" stroke-width="1.00" fill="none" stroke-linejoin="miter" stroke-linecap="square"/>
<path d="M734.50 261.50 L734.50 264.50 L779.50 264.50" stroke="#009600" stroke-width="1.00" fill="none" stroke-linejoin="miter" stroke-linecap="square"/>
<path d="M785.50 321.50 L834.50 321.50" stroke="#009600" stroke-width="1.00" fill="none" stroke-linejoin="miter" stroke-linecap="square"/>
<path d="M819.50 321.50 L819.50 326.50" stroke="#009600" stroke-width="1.00" fill="none" stroke-linejoin="miter" stroke-linecap="square"/>
<path d="M878.50 321.50 L889.50 321.50 L889.50 330.50" stroke="#009600" stroke-width="1.00" fill="none" stroke-linejoin="miter" stroke-linecap="square"/>
<path d="M785.50 456.50 L850.50 456.50" stroke="#009600" stroke-width="1.00" fill="none" stroke-linejoin="miter" stroke-linecap="square"/>
<path d="M883.50 456.50 L930.50 456.50" stroke="#009600" stroke-width="1.00" fill="none" stroke-linejoin="miter" stroke-linecap="square"/>
<path d="M963.50 456.50 L988.50 456.50" stroke="#009600" stroke-width="1.00" fill="none" stroke-linejoin="miter" stroke-linecap="square"/>
<path d="M901.50 456.50 L901.50 463.50" stroke="#009600" stroke-width="1.00" fill="none" stroke-linejoin="miter" stroke-linecap="square"/>
<path d="M901.50 495.50 L901.50 512.50" stroke="#009600" stroke-width="1.00" fill="none" stroke-linejoin="miter" stroke-linecap="square"/>
<path d="M977.50 456.50 L977.50 462.50" stroke="#009600" stroke-width="1.00" fill="none" stroke-linejoin="miter" stroke-linecap="square"/>
<path d="M977.50 495.50 L977.50 504.50 L901.50 504.50" stroke="#009600" stroke-width="1.00" fill="none" stroke-linejoin="miter" stroke-linecap="square"/>
<path d="M785.50 479.50 L825.50 479.50" stroke="#009600" stroke-width="1.00" fill="none" stroke-linejoin="miter" stroke-linecap="square"/>
<path d="M785.50 490.50 L825.50 490.50" stroke="#009600" stroke-width="1.00" fill="none" stroke-linejoin="miter" stroke-linecap="square"/>
<path d="M785.50 546.50 L825.50 546.50" stroke="#009600" stroke-width="1.00" fill="none" stroke-linejoin="miter" stroke-linecap="square"/>
<path d="M785.50 557.50 L825.50 557.50" stroke="#009600" stroke-width="1.00" fill="none" stroke-linejoin="miter" stroke-linecap="square"/>
<path d="M785.50 569.50 L825.50 569.50" stroke="#009600" stroke-width="1.00" fill="none" stroke-linejoin="miter" stroke-linecap="square"/>
<path d="M785.50 580.50 L825.50 580.50" stroke="#009600" stroke-width="1.00" fill="none" stroke-linejoin="miter" stroke-linecap="square"/>
<path d="M717.50 614.50 L717.50 637.50" stroke="#009600" stroke-width="1.00" fill="none" stroke-linejoin="miter" stroke-linecap="square"/>
<path d="M512.50 287.50 L524.50 287.50" stroke="#840000" stroke-width="1.00" fill="none" stroke-linejoin="miter" stroke-linecap="square"/>
<path d="M546.50 287.50 L556.50 287.50" stroke="#840000" stroke-width="1.00" fill="none" stroke-linejoin="miter" stroke-linecap="square"/>
<rect x="524.50" y="285.50" width="3.00" height="3.00" stroke="#840000" stroke-width="1.00" fill="none"/>
<rect x="542.50" y="285.50" width="3.00" height="3.00" stroke="#840000" stroke-width="1.00" fill="none"/>
<path d="M523.50 281.50 L545.50 281.50" stroke="#840000" stroke-width="1.00" fill="none" stroke-linejoin="miter" stroke-linecap="square"/>
<path d="M534.50 281.50 L534.50 273.50" stroke="#840000" stroke-width="1.00" fill="none" stroke-linejoin="miter" stroke-linecap="square"/>
<text transform="translate(526.60 257.30) scale(0.780 1)" x="0" y="0" font-size="8.43" fill="#006464" stroke="#006464" stroke-width="0.45" textLength="20.90" lengthAdjust="spacing" >SW1</text>
<text transform="translate(520.00 267.60) scale(0.780 1)" x="0" y="0" font-size="8.43" fill="#006464" stroke="#006464" stroke-width="0.45" textLength="37.44" lengthAdjust="spacing" >RESET1</text>
<rect x="572.50" y="242.50" width="9.00" height="22.00" stroke="#840000" stroke-width="1.00" fill="none"/>
<path d="M576.50 237.50 L576.50 242.50" stroke="#840000" stroke-width="1.00" fill="none" stroke-linejoin="miter" stroke-linecap="square"/>
<path d="M576.50 265.50 L576.50 270.50" stroke="#840000" stroke-width="1.00" fill="none" stroke-linejoin="miter" stroke-linecap="square"/>
<text transform="translate(588.80 251.00) scale(0.780 1)" x="0" y="0" font-size="8.43" fill="#006464" stroke="#006464" stroke-width="0.45" textLength="12.69" lengthAdjust="spacing" >R1</text>
<text transform="translate(588.80 262.20) scale(0.780 1)" x="0" y="0" font-size="8.43" fill="#006464" stroke="#006464" stroke-width="0.45" textLength="18.46" lengthAdjust="spacing" >10k</text>
<path d="M567.00 318.00 L587.00 318.00" stroke="#840000" stroke-width="2" stroke-linecap="butt"/>
<path d="M567.00 324.00 L587.00 324.00" stroke="#840000" stroke-width="2" stroke-linecap="butt"/>
<path d="M576.50 305.50 L576.50 317.50" stroke="#840000" stroke-width="1.00" fill="none" stroke-linejoin="miter" stroke-linecap="square"/>
<path d="M576.50 325.50 L576.50 338.50" stroke="#840000" stroke-width="1.00" fill="none" stroke-linejoin="miter" stroke-linecap="square"/>
<text transform="translate(594.50 319.20) scale(0.780 1)" x="0" y="0" font-size="8.43" fill="#006464" stroke="#006464" stroke-width="0.45" textLength="13.46" lengthAdjust="spacing" >C7</text>
<text transform="translate(594.50 330.00) scale(0.780 1)" x="0" y="0" font-size="8.43" fill="#006464" stroke="#006464" stroke-width="0.45" textLength="22.44" lengthAdjust="spacing" >.1uF</text>
<path d="M503.50 299.50 L503.50 304.50" stroke="#840000" stroke-width="1.00" fill="none" stroke-linejoin="miter" stroke-linecap="square"/>
<path d="M503.50 310.20 L497.60 304.50 L509.40 304.50 L503.50 310.20 L497.60 304.50" stroke="#840000" stroke-width="1.00" fill="none" stroke-linejoin="miter" stroke-linecap="square"/>
<text transform="translate(495.00 324.20) scale(0.780 1)" x="0" y="0" font-size="8.43" fill="#006464" stroke="#006464" stroke-width="0.45" textLength="21.79" lengthAdjust="spacing" >GND</text>
<path d="M576.50 349.50 L576.50 354.50" stroke="#840000" stroke-width="1.00" fill="none" stroke-linejoin="miter" stroke-linecap="square"/>
<path d="M576.50 360.20 L570.60 354.50 L582.40 354.50 L576.50 360.20 L570.60 354.50" stroke="#840000" stroke-width="1.00" fill="none" stroke-linejoin="miter" stroke-linecap="square"/>
<text transform="translate(569.00 374.70) scale(0.780 1)" x="0" y="0" font-size="8.43" fill="#006464" stroke="#006464" stroke-width="0.45" textLength="20.77" lengthAdjust="spacing" >GND</text>
<path d="M570.50 228.50 L576.50 228.50" stroke="#840000" stroke-width="1.00" fill="none" stroke-linejoin="miter" stroke-linecap="square"/>
<path d="M570.70 228.20 L568.20 223.30 L565.70 228.20 L568.20 233.10 L570.70 228.20 L568.20 223.30" stroke="#840000" stroke-width="1.00" fill="none" stroke-linejoin="miter" stroke-linecap="square"/>
<text transform="translate(518.00 231.20) scale(0.780 1)" x="0" y="0" font-size="8.43" fill="#006464" stroke="#006464" stroke-width="0.45" textLength="52.56" lengthAdjust="spacing" >PWR_FLAG</text>
<path d="M577.00 222.50 L581.40 216.50 L605.50 216.50 L605.50 228.50 L581.40 228.50 L577.00 222.50 L581.40 216.50" stroke="#840000" stroke-width="1.00" fill="none" stroke-linejoin="miter" stroke-linecap="square"/>
<text transform="translate(583.90 225.80) scale(0.780 1)" x="0" y="0" font-size="8.43" fill="#840000" stroke="#840000" stroke-width="0.35" textLength="22.18" lengthAdjust="spacing" >Vsys</text>
<path d="M725.00 242.00 L745.00 242.00" stroke="#840000" stroke-width="2" stroke-linecap="butt"/>
<path d="M725.00 248.00 L745.00 248.00" stroke="#840000" stroke-width="2" stroke-linecap="butt"/>
<path d="M734.50 228.50 L734.50 241.50" stroke="#840000" stroke-width="1.00" fill="none" stroke-linejoin="miter" stroke-linecap="square"/>
<path d="M734.50 249.50 L734.50 261.50" stroke="#840000" stroke-width="1.00" fill="none" stroke-linejoin="miter" stroke-linecap="square"/>
<path d="M770.00 242.00 L790.00 242.00" stroke="#840000" stroke-width="2" stroke-linecap="butt"/>
<path d="M770.00 248.00 L790.00 248.00" stroke="#840000" stroke-width="2" stroke-linecap="butt"/>
<path d="M779.50 228.50 L779.50 241.50" stroke="#840000" stroke-width="1.00" fill="none" stroke-linejoin="miter" stroke-linecap="square"/>
<path d="M779.50 249.50 L779.50 261.50" stroke="#840000" stroke-width="1.00" fill="none" stroke-linejoin="miter" stroke-linecap="square"/>
<text transform="translate(752.80 241.80) scale(0.780 1)" x="0" y="0" font-size="8.43" fill="#006464" stroke="#006464" stroke-width="0.45" textLength="13.33" lengthAdjust="spacing" >C8</text>
<text transform="translate(752.80 253.80) scale(0.780 1)" x="0" y="0" font-size="8.43" fill="#006464" stroke="#006464" stroke-width="0.45" textLength="14.74" lengthAdjust="spacing" >.1u</text>
<text transform="translate(798.00 241.80) scale(0.780 1)" x="0" y="0" font-size="8.43" fill="#006464" stroke="#006464" stroke-width="0.45" textLength="12.82" lengthAdjust="spacing" >C9</text>
<text transform="translate(798.00 253.80) scale(0.780 1)" x="0" y="0" font-size="8.43" fill="#006464" stroke="#006464" stroke-width="0.45" textLength="18.46" lengthAdjust="spacing" >10u</text>
<path d="M779.50 264.50 L779.50 270.50" stroke="#840000" stroke-width="1.00" fill="none" stroke-linejoin="miter" stroke-linecap="square"/>
<path d="M779.50 276.20 L773.70 270.50 L785.30 270.50 L779.50 276.20 L773.70 270.50" stroke="#840000" stroke-width="1.00" fill="none" stroke-linejoin="miter" stroke-linecap="square"/>
<text transform="translate(789.00 273.00) scale(0.780 1)" x="0" y="0" font-size="8.43" fill="#006464" stroke="#006464" stroke-width="0.45" textLength="20.51" lengthAdjust="spacing" >GND</text>
<path d="M810.50 210.50 L810.50 216.50" stroke="#840000" stroke-width="1.00" fill="none" stroke-linejoin="miter" stroke-linecap="square"/>
<path d="M810.50 210.90 L805.80 208.00 L810.50 205.20 L815.70 208.00 L810.50 210.90 L805.80 208.00" stroke="#840000" stroke-width="1.00" fill="none" stroke-linejoin="miter" stroke-linecap="square"/>
<text transform="translate(790.70 200.00) scale(0.780 1)" x="0" y="0" font-size="8.43" fill="#006464" stroke="#006464" stroke-width="0.45" textLength="51.92" lengthAdjust="spacing" >PWR_FLAG</text>
<path d="M811.20 222.50 L815.60 216.50 L839.50 216.50 L839.50 228.50 L815.60 228.50 L811.20 222.50 L815.60 216.50" stroke="#840000" stroke-width="1.00" fill="none" stroke-linejoin="miter" stroke-linecap="square"/>
<text transform="translate(817.90 225.80) scale(0.780 1)" x="0" y="0" font-size="8.43" fill="#840000" stroke="#840000" stroke-width="0.35" textLength="22.05" lengthAdjust="spacing" >Vsys</text>
<path d="M809.00 340.00 L829.00 340.00" stroke="#840000" stroke-width="2" stroke-linecap="butt"/>
<path d="M809.00 347.00 L829.00 347.00" stroke="#840000" stroke-width="2" stroke-linecap="butt"/>
<path d="M819.50 326.50 L819.50 339.50" stroke="#840000" stroke-width="1.00" fill="none" stroke-linejoin="miter" stroke-linecap="square"/>
<path d="M819.50 348.50 L819.50 361.50" stroke="#840000" stroke-width="1.00" fill="none" stroke-linejoin="miter" stroke-linecap="square"/>
<text transform="translate(837.00 341.20) scale(0.780 1)" x="0" y="0" font-size="8.43" fill="#006464" stroke="#006464" stroke-width="0.45" textLength="20.51" lengthAdjust="spacing" >C10</text>
<text transform="translate(837.00 352.50) scale(0.780 1)" x="0" y="0" font-size="8.43" fill="#006464" stroke="#006464" stroke-width="0.45" textLength="16.03" lengthAdjust="spacing" >.1u</text>
<path d="M819.50 361.50 L819.50 366.50" stroke="#840000" stroke-width="1.00" fill="none" stroke-linejoin="miter" stroke-linecap="square"/>
<path d="M819.50 372.20 L813.60 366.50 L825.40 366.50 L819.50 372.20 L813.60 366.50" stroke="#840000" stroke-width="1.00" fill="none" stroke-linejoin="miter" stroke-linecap="square"/>
<text transform="translate(811.20 386.20) scale(0.780 1)" x="0" y="0" font-size="8.43" fill="#006464" stroke="#006464" stroke-width="0.45" textLength="20.64" lengthAdjust="spacing" >GND</text>
<path d="M834.50 321.50 L845.50 321.50" stroke="#840000" stroke-width="1.00" fill="none" stroke-linejoin="miter" stroke-linecap="square"/>
<path d="M867.50 321.50 L878.50 321.50" stroke="#840000" stroke-width="1.00" fill="none" stroke-linejoin="miter" stroke-linecap="square"/>
<rect x="845.50" y="319.50" width="3.00" height="3.00" stroke="#840000" stroke-width="1.00" fill="none"/>
<rect x="863.50" y="319.50" width="3.00" height="3.00" stroke="#840000" stroke-width="1.00" fill="none"/>
<path d="M844.50 315.50 L867.50 315.50" stroke="#840000" stroke-width="1.00" fill="none" stroke-linejoin="miter" stroke-linecap="square"/>
<path d="M855.50 315.50 L855.50 307.50" stroke="#840000" stroke-width="1.00" fill="none" stroke-linejoin="miter" stroke-linecap="square"/>
<text transform="translate(847.80 290.40) scale(0.780 1)" x="0" y="0" font-size="8.43" fill="#006464" stroke="#006464" stroke-width="0.45" textLength="21.15" lengthAdjust="spacing" >SW2</text>
<text transform="translate(842.80 302.00) scale(0.780 1)" x="0" y="0" font-size="8.43" fill="#006464" stroke="#006464" stroke-width="0.45" textLength="33.59" lengthAdjust="spacing" >BOOT1</text>
<path d="M889.50 330.50 L889.50 335.50" stroke="#840000" stroke-width="1.00" fill="none" stroke-linejoin="miter" stroke-linecap="square"/>
<path d="M889.50 341.20 L883.60 335.50 L895.40 335.50 L889.50 341.20 L883.60 335.50" stroke="#840000" stroke-width="1.00" fill="none" stroke-linejoin="miter" stroke-linecap="square"/>
<text transform="translate(882.00 355.10) scale(0.780 1)" x="0" y="0" font-size="8.43" fill="#006464" stroke="#006464" stroke-width="0.45" textLength="20.51" lengthAdjust="spacing" >GND</text>
<rect x="855.50" y="451.50" width="23.00" height="9.00" stroke="#840000" stroke-width="1.00" fill="none"/>
<path d="M850.50 456.50 L855.50 456.50" stroke="#840000" stroke-width="1.00" fill="none" stroke-linejoin="miter" stroke-linecap="square"/>
<path d="M879.50 456.50 L883.50 456.50" stroke="#840000" stroke-width="1.00" fill="none" stroke-linejoin="miter" stroke-linecap="square"/>
<text transform="translate(862.50 434.80) scale(0.780 1)" x="0" y="0" font-size="8.43" fill="#006464" stroke="#006464" stroke-width="0.45" textLength="12.82" lengthAdjust="spacing" >R2</text>
<text transform="translate(862.50 445.40) scale(0.780 1)" x="0" y="0" font-size="8.43" fill="#006464" stroke="#006464" stroke-width="0.45" textLength="11.79" lengthAdjust="spacing" >1k</text>
<path d="M943.00 446.00 L943.00 466.00" stroke="#840000" stroke-width="2" stroke-linecap="butt"/>
<path d="M950.00 446.00 L950.00 466.00" stroke="#840000" stroke-width="2" stroke-linecap="butt"/>
<path d="M930.50 456.50 L942.50 456.50" stroke="#840000" stroke-width="1.00" fill="none" stroke-linejoin="miter" stroke-linecap="square"/>
<path d="M951.50 456.50 L963.50 456.50" stroke="#840000" stroke-width="1.00" fill="none" stroke-linejoin="miter" stroke-linecap="square"/>
<text transform="translate(938.70 426.30) scale(0.780 1)" x="0" y="0" font-size="8.43" fill="#006464" stroke="#006464" stroke-width="0.45" textLength="20.51" lengthAdjust="spacing" >C12</text>
<text transform="translate(943.40 437.30) scale(0.780 1)" x="0" y="0" font-size="8.43" fill="#006464" stroke="#006464" stroke-width="0.45" textLength="6.28" lengthAdjust="spacing" >C</text>
<path d="M891.00 476.00 L911.00 476.00" stroke="#840000" stroke-width="2" stroke-linecap="butt"/>
<path d="M891.00 482.00 L911.00 482.00" stroke="#840000" stroke-width="2" stroke-linecap="butt"/>
<path d="M901.50 463.50 L901.50 475.50" stroke="#840000" stroke-width="1.00" fill="none" stroke-linejoin="miter" stroke-linecap="square"/>
<path d="M901.50 483.50 L901.50 495.50" stroke="#840000" stroke-width="1.00" fill="none" stroke-linejoin="miter" stroke-linecap="square"/>
<text transform="translate(919.00 477.00) scale(0.780 1)" x="0" y="0" font-size="8.43" fill="#006464" stroke="#006464" stroke-width="0.45" textLength="19.62" lengthAdjust="spacing" >C11</text>
<text transform="translate(919.00 488.00) scale(0.780 1)" x="0" y="0" font-size="8.43" fill="#006464" stroke="#006464" stroke-width="0.45" textLength="5.90" lengthAdjust="spacingAndGlyphs" >C</text>
<rect x="972.50" y="467.50" width="9.00" height="23.00" stroke="#840000" stroke-width="1.00" fill="none"/>
<path d="M977.50 462.50 L977.50 467.50" stroke="#840000" stroke-width="1.00" fill="none" stroke-linejoin="miter" stroke-linecap="square"/>
<path d="M977.50 491.50 L977.50 495.50" stroke="#840000" stroke-width="1.00" fill="none" stroke-linejoin="miter" stroke-linecap="square"/>
<text transform="translate(989.60 476.30) scale(0.780 1)" x="0" y="0" font-size="8.43" fill="#006464" stroke="#006464" stroke-width="0.45" textLength="12.56" lengthAdjust="spacing" >R9</text>
<text transform="translate(989.60 488.40) scale(0.780 1)" x="0" y="0" font-size="8.43" fill="#006464" stroke="#006464" stroke-width="0.45" textLength="12.05" lengthAdjust="spacing" >1k</text>
<path d="M901.50 512.50 L901.50 517.50" stroke="#840000" stroke-width="1.00" fill="none" stroke-linejoin="miter" stroke-linecap="square"/>
<path d="M901.50 523.20 L895.60 517.50 L907.40 517.50 L901.50 523.20 L895.60 517.50" stroke="#840000" stroke-width="1.00" fill="none" stroke-linejoin="miter" stroke-linecap="square"/>
<text transform="translate(893.00 538.00) scale(0.780 1)" x="0" y="0" font-size="8.43" fill="#006464" stroke="#006464" stroke-width="0.45" textLength="21.03" lengthAdjust="spacing" >GND</text>
<path d="M988.60 456.50 L993.00 450.50 L1022.50 450.50 L1022.50 462.50 L993.00 462.50 L988.60 456.50 L993.00 450.50" stroke="#840000" stroke-width="1.00" fill="none" stroke-linejoin="miter" stroke-linecap="square"/>
<text transform="translate(995.50 459.50) scale(0.780 1)" x="0" y="0" font-size="8.43" fill="#840000" stroke="#840000" stroke-width="0.35" textLength="31.41" lengthAdjust="spacing" >DAC.V</text>
<path d="M824.60 479.00 L829.00 473.50 L868.50 473.50 L868.50 484.50 L829.00 484.50 L824.60 479.00 L829.00 473.50" stroke="#840000" stroke-width="1.00" fill="none" stroke-linejoin="miter" stroke-linecap="square"/>
<text transform="translate(832.70 482.20) scale(0.780 1)" x="0" y="0" font-size="8.43" fill="#840000" stroke="#840000" stroke-width="0.35" textLength="40.26" lengthAdjust="spacing" >I2C.SDA</text>
<path d="M824.60 490.00 L829.00 484.50 L867.50 484.50 L867.50 495.50 L829.00 495.50 L824.60 490.00 L829.00 484.50" stroke="#840000" stroke-width="1.00" fill="none" stroke-linejoin="miter" stroke-linecap="square"/>
<text transform="translate(832.70 493.60) scale(0.780 1)" x="0" y="0" font-size="8.43" fill="#840000" stroke="#840000" stroke-width="0.35" textLength="40.26" lengthAdjust="spacing" >I2C.SCL</text>
<path d="M825.30 547.00 L829.70 541.50 L885.50 541.50 L885.50 552.50 L829.70 552.50 L825.30 547.00 L829.70 541.50" stroke="#840000" stroke-width="1.00" fill="none" stroke-linejoin="miter" stroke-linecap="square"/>
<text transform="translate(832.70 550.00) scale(0.780 1)" x="0" y="0" font-size="8.43" fill="#840000" stroke="#840000" stroke-width="0.35" textLength="61.67" lengthAdjust="spacing" >BAT.I2C.SCL</text>
<path d="M825.30 558.00 L829.70 552.50 L885.50 552.50 L885.50 563.50 L829.70 563.50 L825.30 558.00 L829.70 552.50" stroke="#840000" stroke-width="1.00" fill="none" stroke-linejoin="miter" stroke-linecap="square"/>
<text transform="translate(832.70 561.00) scale(0.780 1)" x="0" y="0" font-size="8.43" fill="#840000" stroke="#840000" stroke-width="0.35" textLength="61.67" lengthAdjust="spacing" >BAT.I2C.SDA</text>
<path d="M825.30 569.00 L829.70 563.50 L859.50 563.50 L859.50 574.50 L829.70 574.50 L825.30 569.00 L829.70 563.50" stroke="#840000" stroke-width="1.00" fill="none" stroke-linejoin="miter" stroke-linecap="square"/>
<text transform="translate(832.00 572.00) scale(0.780 1)" x="0" y="0" font-size="8.43" fill="#840000" stroke="#840000" stroke-width="0.35" textLength="30.26" lengthAdjust="spacing" >ADC.V</text>
<path d="M825.30 580.00 L829.70 574.50 L876.50 574.50 L876.50 585.50 L829.70 585.50 L825.30 580.00 L829.70 574.50" stroke="#840000" stroke-width="1.00" fill="none" stroke-linejoin="miter" stroke-linecap="square"/>
<text transform="translate(832.00 583.00) scale(0.780 1)" x="0" y="0" font-size="8.43" fill="#840000" stroke="#840000" stroke-width="0.35" textLength="51.28" lengthAdjust="spacing" >ADC.Temp</text>
<rect x="661.50" y="309.50" width="113.00" height="294.00" stroke="#840000" stroke-width="1.00" fill="#FFFFC2"/>
<text transform="translate(728.60 290.00) scale(0.780 1)" x="0" y="0" font-size="8.43" fill="#006464" stroke="#006464" stroke-width="0.45" textLength="13.33" lengthAdjust="spacing" >U1</text>
<text transform="translate(728.60 301.50) scale(0.780 1)" x="0" y="0" font-size="8.43" fill="#006464" stroke="#006464" stroke-width="0.45" textLength="103.59" lengthAdjust="spacing" >ESP32-WROOM-32</text>
<path d="M774.50 321.50 L785.50 321.50" stroke="#840000" stroke-width="1.00" fill="none" stroke-linejoin="miter" stroke-linecap="square"/>
<text transform="translate(758.60 324.00) scale(0.780 1)" x="0" y="0" font-size="8.87" fill="#006464" stroke="#006464" stroke-width="0.45" textLength="16.15" lengthAdjust="spacing" >IO0</text>
<text transform="translate(775.30 319.20) scale(0.780 1)" x="0" y="0" font-size="8.58" fill="#A90000" stroke="#A90000" stroke-width="0.45" textLength="12.05" lengthAdjust="spacing" >25</text>
<path d="M774.50 332.50 L783.50 332.50" stroke="#840000" stroke-width="1.00" fill="none" stroke-linejoin="miter" stroke-linecap="square"/>
<circle cx="785.30" cy="332.50" r="1.50" stroke="#840000" stroke-width="1.00" fill="none"/>
<text transform="translate(731.20 335.00) scale(0.780 1)" x="0" y="0" font-size="8.87" fill="#006464" stroke="#006464" stroke-width="0.45" textLength="51.28" lengthAdjust="spacing" >TXD0/IO1</text>
<text transform="translate(775.30 330.20) scale(0.780 1)" x="0" y="0" font-size="8.58" fill="#A90000" stroke="#A90000" stroke-width="0.45" textLength="12.05" lengthAdjust="spacing" >35</text>
<path d="M774.50 344.50 L783.50 344.50" stroke="#840000" stroke-width="1.00" fill="none" stroke-linejoin="miter" stroke-linecap="square"/>
<circle cx="785.30" cy="344.50" r="1.50" stroke="#840000" stroke-width="1.00" fill="none"/>
<text transform="translate(758.60 347.00) scale(0.780 1)" x="0" y="0" font-size="8.87" fill="#006464" stroke="#006464" stroke-width="0.45" textLength="16.15" lengthAdjust="spacing" >IO2</text>
<text transform="translate(775.30 342.20) scale(0.780 1)" x="0" y="0" font-size="8.58" fill="#A90000" stroke="#A90000" stroke-width="0.45" textLength="12.05" lengthAdjust="spacing" >24</text>
<path d="M774.50 355.50 L783.50 355.50" stroke="#840000" stroke-width="1.00" fill="none" stroke-linejoin="miter" stroke-linecap="square"/>
<circle cx="785.30" cy="355.50" r="1.50" stroke="#840000" stroke-width="1.00" fill="none"/>
<text transform="translate(730.80 358.00) scale(0.780 1)" x="0" y="0" font-size="8.87" fill="#006464" stroke="#006464" stroke-width="0.45" textLength="51.79" lengthAdjust="spacing" >RXD0/IO3</text>
<text transform="translate(775.30 353.20) scale(0.780 1)" x="0" y="0" font-size="8.58" fill="#A90000" stroke="#A90000" stroke-width="0.45" textLength="12.05" lengthAdjust="spacing" >34</text>
<path d="M774.50 366.50 L783.50 366.50" stroke="#840000" stroke-width="1.00" fill="none" stroke-linejoin="miter" stroke-linecap="square"/>
<circle cx="785.30" cy="366.50" r="1.50" stroke="#840000" stroke-width="1.00" fill="none"/>
<text transform="translate(759.00 369.00) scale(0.780 1)" x="0" y="0" font-size="8.87" fill="#006464" stroke="#006464" stroke-width="0.45" textLength="15.64" lengthAdjust="spacing" >IO4</text>
<text transform="translate(775.30 364.20) scale(0.780 1)" x="0" y="0" font-size="8.58" fill="#A90000" stroke="#A90000" stroke-width="0.45" textLength="12.05" lengthAdjust="spacing" >26</text>
<path d="M774.50 377.50 L783.50 377.50" stroke="#840000" stroke-width="1.00" fill="none" stroke-linejoin="miter" stroke-linecap="square"/>
<circle cx="785.30" cy="377.50" r="1.50" stroke="#840000" stroke-width="1.00" fill="none"/>
<text transform="translate(759.00 380.00) scale(0.780 1)" x="0" y="0" font-size="8.87" fill="#006464" stroke="#006464" stroke-width="0.45" textLength="15.64" lengthAdjust="spacing" >IO5</text>
<text transform="translate(775.30 375.20) scale(0.780 1)" x="0" y="0" font-size="8.58" fill="#A90000" stroke="#A90000" stroke-width="0.45" textLength="12.05" lengthAdjust="spacing" >29</text>
<path d="M774.50 389.50 L783.50 389.50" stroke="#840000" stroke-width="1.00" fill="none" stroke-linejoin="miter" stroke-linecap="square"/>
<circle cx="785.30" cy="389.50" r="1.50" stroke="#840000" stroke-width="1.00" fill="none"/>
<text transform="translate(752.90 392.00) scale(0.780 1)" x="0" y="0" font-size="8.87" fill="#006464" stroke="#006464" stroke-width="0.45" textLength="23.46" lengthAdjust="spacing" >IO12</text>
<text transform="translate(775.30 387.20) scale(0.780 1)" x="0" y="0" font-size="8.58" fill="#A90000" stroke="#A90000" stroke-width="0.45" textLength="12.05" lengthAdjust="spacing" >14</text>
<path d="M774.50 400.50 L783.50 400.50" stroke="#840000" stroke-width="1.00" fill="none" stroke-linejoin="miter" stroke-linecap="square"/>
<circle cx="785.30" cy="400.50" r="1.50" stroke="#840000" stroke-width="1.00" fill="none"/>
<text transform="translate(752.90 403.00) scale(0.780 1)" x="0" y="0" font-size="8.87" fill="#006464" stroke="#006464" stroke-width="0.45" textLength="23.46" lengthAdjust="spacing" >IO13</text>
<text transform="translate(775.30 398.20) scale(0.780 1)" x="0" y="0" font-size="8.58" fill="#A90000" stroke="#A90000" stroke-width="0.45" textLength="12.05" lengthAdjust="spacing" >16</text>
<path d="M774.50 411.50 L783.50 411.50" stroke="#840000" stroke-width="1.00" fill="none" stroke-linejoin="miter" stroke-linecap="square"/>
<circle cx="785.30" cy="411.50" r="1.50" stroke="#840000" stroke-width="1.00" fill="none"/>
<text transform="translate(752.90 414.00) scale(0.780 1)" x="0" y="0" font-size="8.87" fill="#006464" stroke="#006464" stroke-width="0.45" textLength="23.46" lengthAdjust="spacing" >IO14</text>
<text transform="translate(775.30 409.20) scale(0.780 1)" x="0" y="0" font-size="8.58" fill="#A90000" stroke="#A90000" stroke-width="0.45" textLength="12.05" lengthAdjust="spacing" >13</text>
<path d="M774.50 422.50 L783.50 422.50" stroke="#840000" stroke-width="1.00" fill="none" stroke-linejoin="miter" stroke-linecap="square"/>
<circle cx="785.30" cy="422.50" r="1.50" stroke="#840000" stroke-width="1.00" fill="none"/>
<text transform="translate(752.90 425.00) scale(0.780 1)" x="0" y="0" font-size="8.87" fill="#006464" stroke="#006464" stroke-width="0.45" textLength="23.46" lengthAdjust="spacing" >IO15</text>
<text transform="translate(775.30 420.20) scale(0.780 1)" x="0" y="0" font-size="8.58" fill="#A90000" stroke="#A90000" stroke-width="0.45" textLength="12.05" lengthAdjust="spacing" >23</text>
<path d="M774.50 434.50 L783.50 434.50" stroke="#840000" stroke-width="1.00" fill="none" stroke-linejoin="miter" stroke-linecap="square"/>
<circle cx="785.30" cy="434.50" r="1.50" stroke="#840000" stroke-width="1.00" fill="none"/>
<text transform="translate(752.90 437.00) scale(0.780 1)" x="0" y="0" font-size="8.87" fill="#006464" stroke="#006464" stroke-width="0.45" textLength="23.46" lengthAdjust="spacing" >IO16</text>
<text transform="translate(775.30 432.20) scale(0.780 1)" x="0" y="0" font-size="8.58" fill="#A90000" stroke="#A90000" stroke-width="0.45" textLength="12.05" lengthAdjust="spacing" >27</text>
<path d="M774.50 445.50 L783.50 445.50" stroke="#840000" stroke-width="1.00" fill="none" stroke-linejoin="miter" stroke-linecap="square"/>
<circle cx="785.30" cy="445.50" r="1.50" stroke="#840000" stroke-width="1.00" fill="none"/>
<text transform="translate(752.90 448.00) scale(0.780 1)" x="0" y="0" font-size="8.87" fill="#006464" stroke="#006464" stroke-width="0.45" textLength="23.46" lengthAdjust="spacing" >IO17</text>
<text transform="translate(775.30 443.20) scale(0.780 1)" x="0" y="0" font-size="8.58" fill="#A90000" stroke="#A90000" stroke-width="0.45" textLength="12.05" lengthAdjust="spacing" >28</text>
<path d="M774.50 456.50 L785.50 456.50" stroke="#840000" stroke-width="1.00" fill="none" stroke-linejoin="miter" stroke-linecap="square"/>
<text transform="translate(752.90 459.00) scale(0.780 1)" x="0" y="0" font-size="8.87" fill="#006464" stroke="#006464" stroke-width="0.45" textLength="23.46" lengthAdjust="spacing" >IO18</text>
<text transform="translate(775.30 454.20) scale(0.780 1)" x="0" y="0" font-size="8.58" fill="#A90000" stroke="#A90000" stroke-width="0.45" textLength="12.05" lengthAdjust="spacing" >30</text>
<path d="M774.50 467.50 L783.50 467.50" stroke="#840000" stroke-width="1.00" fill="none" stroke-linejoin="miter" stroke-linecap="square"/>
<circle cx="785.30" cy="467.50" r="1.50" stroke="#840000" stroke-width="1.00" fill="none"/>
<text transform="translate(752.90 470.00) scale(0.780 1)" x="0" y="0" font-size="8.87" fill="#006464" stroke="#006464" stroke-width="0.45" textLength="23.46" lengthAdjust="spacing" >IO19</text>
<text transform="translate(775.30 465.20) scale(0.780 1)" x="0" y="0" font-size="8.58" fill="#A90000" stroke="#A90000" stroke-width="0.45" textLength="12.05" lengthAdjust="spacing" >31</text>
<path d="M774.50 479.50 L785.50 479.50" stroke="#840000" stroke-width="1.00" fill="none" stroke-linejoin="miter" stroke-linecap="square"/>
<text transform="translate(752.90 482.00) scale(0.780 1)" x="0" y="0" font-size="8.87" fill="#006464" stroke="#006464" stroke-width="0.45" textLength="23.46" lengthAdjust="spacing" >IO21</text>
<text transform="translate(775.30 477.20) scale(0.780 1)" x="0" y="0" font-size="8.58" fill="#A90000" stroke="#A90000" stroke-width="0.45" textLength="12.05" lengthAdjust="spacing" >33</text>
<path d="M774.50 490.50 L785.50 490.50" stroke="#840000" stroke-width="1.00" fill="none" stroke-linejoin="miter" stroke-linecap="square"/>
<text transform="translate(752.90 493.00) scale(0.780 1)" x="0" y="0" font-size="8.87" fill="#006464" stroke="#006464" stroke-width="0.45" textLength="23.46" lengthAdjust="spacing" >IO22</text>
<text transform="translate(775.30 488.20) scale(0.780 1)" x="0" y="0" font-size="8.58" fill="#A90000" stroke="#A90000" stroke-width="0.45" textLength="12.05" lengthAdjust="spacing" >36</text>
<path d="M774.50 501.50 L783.50 501.50" stroke="#840000" stroke-width="1.00" fill="none" stroke-linejoin="miter" stroke-linecap="square"/>
<circle cx="785.30" cy="501.50" r="1.50" stroke="#840000" stroke-width="1.00" fill="none"/>
<text transform="translate(752.90 504.00) scale(0.780 1)" x="0" y="0" font-size="8.87" fill="#006464" stroke="#006464" stroke-width="0.45" textLength="23.46" lengthAdjust="spacing" >IO23</text>
<text transform="translate(775.30 499.20) scale(0.780 1)" x="0" y="0" font-size="8.58" fill="#A90000" stroke="#A90000" stroke-width="0.45" textLength="12.05" lengthAdjust="spacing" >37</text>
<path d="M774.50 512.50 L783.50 512.50" stroke="#840000" stroke-width="1.00" fill="none" stroke-linejoin="miter" stroke-linecap="square"/>
<circle cx="785.30" cy="512.50" r="1.50" stroke="#840000" stroke-width="1.00" fill="none"/>
<text transform="translate(752.90 515.00) scale(0.780 1)" x="0" y="0" font-size="8.87" fill="#006464" stroke="#006464" stroke-width="0.45" textLength="23.46" lengthAdjust="spacing" >IO25</text>
<text transform="translate(775.30 510.20) scale(0.780 1)" x="0" y="0" font-size="8.58" fill="#A90000" stroke="#A90000" stroke-width="0.45" textLength="12.05" lengthAdjust="spacing" >10</text>
<path d="M774.50 524.50 L783.50 524.50" stroke="#840000" stroke-width="1.00" fill="none" stroke-linejoin="miter" stroke-linecap="square"/>
<circle cx="785.30" cy="524.50" r="1.50" stroke="#840000" stroke-width="1.00" fill="none"/>
<text transform="translate(752.90 527.00) scale(0.780 1)" x="0" y="0" font-size="8.87" fill="#006464" stroke="#006464" stroke-width="0.45" textLength="23.46" lengthAdjust="spacing" >IO26</text>
<text transform="translate(775.30 522.20) scale(0.780 1)" x="0" y="0" font-size="8.58" fill="#A90000" stroke="#A90000" stroke-width="0.45" textLength="12.05" lengthAdjust="spacing" >11</text>
<path d="M774.50 535.50 L783.50 535.50" stroke="#840000" stroke-width="1.00" fill="none" stroke-linejoin="miter" stroke-linecap="square"/>
<circle cx="785.30" cy="535.50" r="1.50" stroke="#840000" stroke-width="1.00" fill="none"/>
<text transform="translate(752.90 538.00) scale(0.780 1)" x="0" y="0" font-size="8.87" fill="#006464" stroke="#006464" stroke-width="0.45" textLength="23.46" lengthAdjust="spacing" >IO27</text>
<text transform="translate(775.30 533.20) scale(0.780 1)" x="0" y="0" font-size="8.58" fill="#A90000" stroke="#A90000" stroke-width="0.45" textLength="12.05" lengthAdjust="spacing" >12</text>
<path d="M774.50 546.50 L785.50 546.50" stroke="#840000" stroke-width="1.00" fill="none" stroke-linejoin="miter" stroke-linecap="square"/>
<text transform="translate(752.90 549.00) scale(0.780 1)" x="0" y="0" font-size="8.87" fill="#006464" stroke="#006464" stroke-width="0.45" textLength="23.46" lengthAdjust="spacing" >IO32</text>
<text transform="translate(777.70 544.20) scale(0.780 1)" x="0" y="0" font-size="8.58" fill="#A90000" stroke="#A90000" stroke-width="0.45" textLength="5.90" lengthAdjust="spacing" >8</text>
<path d="M774.50 557.50 L785.50 557.50" stroke="#840000" stroke-width="1.00" fill="none" stroke-linejoin="miter" stroke-linecap="square"/>
<text transform="translate(752.90 560.00) scale(0.780 1)" x="0" y="0" font-size="8.87" fill="#006464" stroke="#006464" stroke-width="0.45" textLength="23.46" lengthAdjust="spacing" >IO33</text>
<text transform="translate(777.70 555.20) scale(0.780 1)" x="0" y="0" font-size="8.58" fill="#A90000" stroke="#A90000" stroke-width="0.45" textLength="5.90" lengthAdjust="spacing" >9</text>
<path d="M774.50 569.50 L785.50 569.50" stroke="#840000" stroke-width="1.00" fill="none" stroke-linejoin="miter" stroke-linecap="square"/>
<text transform="translate(752.90 572.00) scale(0.780 1)" x="0" y="0" font-size="8.87" fill="#006464" stroke="#006464" stroke-width="0.45" textLength="23.46" lengthAdjust="spacing" >IO34</text>
<text transform="translate(777.70 567.20) scale(0.780 1)" x="0" y="0" font-size="8.58" fill="#A90000" stroke="#A90000" stroke-width="0.45" textLength="5.90" lengthAdjust="spacing" >6</text>
<path d="M774.50 580.50 L785.50 580.50" stroke="#840000" stroke-width="1.00" fill="none" stroke-linejoin="miter" stroke-linecap="square"/>
<text transform="translate(752.90 583.00) scale(0.780 1)" x="0" y="0" font-size="8.87" fill="#006464" stroke="#006464" stroke-width="0.45" textLength="23.46" lengthAdjust="spacing" >IO35</text>
<text transform="translate(777.70 578.20) scale(0.780 1)" x="0" y="0" font-size="8.58" fill="#A90000" stroke="#A90000" stroke-width="0.45" textLength="5.90" lengthAdjust="spacing" >7</text>
<path d="M651.50 321.50 L661.50 321.50" stroke="#840000" stroke-width="1.00" fill="none" stroke-linejoin="miter" stroke-linecap="square"/>
<text transform="translate(664.60 324.00) scale(0.780 1)" x="0" y="0" font-size="8.87" fill="#006464" stroke="#006464" stroke-width="0.45" textLength="12.18" lengthAdjust="spacingAndGlyphs" >EN</text>
<text transform="translate(653.70 319.20) scale(0.780 1)" x="0" y="0" font-size="8.58" fill="#A90000" stroke="#A90000" stroke-width="0.45" textLength="5.90" lengthAdjust="spacing" >3</text>
<path d="M651.50 344.50 L661.50 344.50" stroke="#840000" stroke-width="1.00" fill="none" stroke-linejoin="miter" stroke-linecap="square"/>
<circle cx="649.60" cy="344.50" r="1.50" stroke="#840000" stroke-width="1.00" fill="none"/>
<text transform="translate(664.60 347.00) scale(0.780 1)" x="0" y="0" font-size="8.87" fill="#006464" stroke="#006464" stroke-width="0.45" textLength="60.90" lengthAdjust="spacing" >SENSOR_VP</text>
<text transform="translate(653.70 342.20) scale(0.780 1)" x="0" y="0" font-size="8.58" fill="#A90000" stroke="#A90000" stroke-width="0.45" textLength="5.90" lengthAdjust="spacing" >4</text>
<path d="M651.50 355.50 L661.50 355.50" stroke="#840000" stroke-width="1.00" fill="none" stroke-linejoin="miter" stroke-linecap="square"/>
<circle cx="649.60" cy="355.50" r="1.50" stroke="#840000" stroke-width="1.00" fill="none"/>
<text transform="translate(664.60 358.00) scale(0.780 1)" x="0" y="0" font-size="8.87" fill="#006464" stroke="#006464" stroke-width="0.45" textLength="60.90" lengthAdjust="spacing" >SENSOR_VN</text>
<text transform="translate(653.70 353.20) scale(0.780 1)" x="0" y="0" font-size="8.58" fill="#A90000" stroke="#A90000" stroke-width="0.45" textLength="5.90" lengthAdjust="spacing" >5</text>
<path d="M651.50 456.50 L661.50 456.50" stroke="#840000" stroke-width="1.00" fill="none" stroke-linejoin="miter" stroke-linecap="square"/>
<circle cx="649.60" cy="456.50" r="1.50" stroke="#840000" stroke-width="1.00" fill="none"/>
<text transform="translate(664.60 459.00) scale(0.780 1)" x="0" y="0" font-size="8.87" fill="#006464" stroke="#006464" stroke-width="0.45" textLength="48.59" lengthAdjust="spacing" >SDO/SD0</text>
<text transform="translate(651.30 454.20) scale(0.780 1)" x="0" y="0" font-size="8.58" fill="#A90000" stroke="#A90000" stroke-width="0.45" textLength="12.05" lengthAdjust="spacing" >21</text>
<path d="M651.50 467.50 L661.50 467.50" stroke="#840000" stroke-width="1.00" fill="none" stroke-linejoin="miter" stroke-linecap="square"/>
<circle cx="649.60" cy="467.50" r="1.50" stroke="#840000" stroke-width="1.00" fill="none"/>
<text transform="translate(664.60 470.00) scale(0.780 1)" x="0" y="0" font-size="8.87" fill="#006464" stroke="#006464" stroke-width="0.45" textLength="44.62" lengthAdjust="spacing" >SDI/SD1</text>
<text transform="translate(651.30 465.20) scale(0.780 1)" x="0" y="0" font-size="8.58" fill="#A90000" stroke="#A90000" stroke-width="0.45" textLength="12.05" lengthAdjust="spacing" >22</text>
<path d="M651.50 479.50 L661.50 479.50" stroke="#840000" stroke-width="1.00" fill="none" stroke-linejoin="miter" stroke-linecap="square"/>
<circle cx="649.60" cy="479.50" r="1.50" stroke="#840000" stroke-width="1.00" fill="none"/>
<text transform="translate(664.60 482.00) scale(0.780 1)" x="0" y="0" font-size="8.87" fill="#006464" stroke="#006464" stroke-width="0.45" textLength="48.85" lengthAdjust="spacing" >SHD/SD2</text>
<text transform="translate(651.30 477.20) scale(0.780 1)" x="0" y="0" font-size="8.58" fill="#A90000" stroke="#A90000" stroke-width="0.45" textLength="12.05" lengthAdjust="spacing" >17</text>
<path d="M651.50 490.50 L661.50 490.50" stroke="#840000" stroke-width="1.00" fill="none" stroke-linejoin="miter" stroke-linecap="square"/>
<circle cx="649.60" cy="490.50" r="1.50" stroke="#840000" stroke-width="1.00" fill="none"/>
<text transform="translate(664.60 493.00) scale(0.780 1)" x="0" y="0" font-size="8.87" fill="#006464" stroke="#006464" stroke-width="0.45" textLength="49.87" lengthAdjust="spacing" >SWP/SD3</text>
<text transform="translate(651.30 488.20) scale(0.780 1)" x="0" y="0" font-size="8.58" fill="#A90000" stroke="#A90000" stroke-width="0.45" textLength="12.05" lengthAdjust="spacing" >18</text>
<path d="M651.50 501.50 L661.50 501.50" stroke="#840000" stroke-width="1.00" fill="none" stroke-linejoin="miter" stroke-linecap="square"/>
<circle cx="649.60" cy="501.50" r="1.50" stroke="#840000" stroke-width="1.00" fill="none"/>
<text transform="translate(664.60 504.00) scale(0.780 1)" x="0" y="0" font-size="8.87" fill="#006464" stroke="#006464" stroke-width="0.45" textLength="48.59" lengthAdjust="spacing" >SCK/CLK</text>
<text transform="translate(651.30 499.20) scale(0.780 1)" x="0" y="0" font-size="8.58" fill="#A90000" stroke="#A90000" stroke-width="0.45" textLength="12.05" lengthAdjust="spacing" >20</text>
<path d="M651.50 512.50 L661.50 512.50" stroke="#840000" stroke-width="1.00" fill="none" stroke-linejoin="miter" stroke-linecap="square"/>
<circle cx="649.60" cy="512.50" r="1.50" stroke="#840000" stroke-width="1.00" fill="none"/>
<text transform="translate(664.60 515.00) scale(0.780 1)" x="0" y="0" font-size="8.87" fill="#006464" stroke="#006464" stroke-width="0.45" textLength="49.87" lengthAdjust="spacing" >SCS/CMD</text>
<text transform="translate(651.30 510.20) scale(0.780 1)" x="0" y="0" font-size="8.58" fill="#A90000" stroke="#A90000" stroke-width="0.45" textLength="12.05" lengthAdjust="spacing" >19</text>
<path d="M717.50 298.50 L717.50 309.50" stroke="#840000" stroke-width="1.00" fill="none" stroke-linejoin="miter" stroke-linecap="square"/>
<text transform="translate(716.00 307.00) rotate(-90) scale(0.780 1)" x="0" y="0" font-size="8.14" fill="#A90000" stroke="#A90000" stroke-width="0.45" >2</text>
<text transform="translate(720.60 328.10) rotate(-90) scale(0.780 1)" x="0" y="0" font-size="8.72" fill="#006464" stroke="#006464" stroke-width="0.45" textLength="19.23" lengthAdjust="spacing" >VDD</text>
<path d="M717.50 603.50 L717.50 614.50" stroke="#840000" stroke-width="1.00" fill="none" stroke-linejoin="miter" stroke-linecap="square"/>
<text transform="translate(715.80 606.50) rotate(-90) scale(0.780 1)" x="0" y="0" font-size="8.14" fill="#A90000" stroke="#A90000" stroke-width="0.45" text-anchor="end" >1</text>
<text transform="translate(720.60 600.00) rotate(-90) scale(0.780 1)" x="0" y="0" font-size="8.72" fill="#006464" stroke="#006464" stroke-width="0.45" textLength="20.77" lengthAdjust="spacing" >GND</text>
<path d="M717.50 637.50 L717.50 642.50" stroke="#840000" stroke-width="1.00" fill="none" stroke-linejoin="miter" stroke-linecap="square"/>
<path d="M717.50 648.20 L711.60 642.50 L723.40 642.50 L717.50 648.20 L711.60 642.50" stroke="#840000" stroke-width="1.00" fill="none" stroke-linejoin="miter" stroke-linecap="square"/>
<text transform="translate(710.00 662.70) scale(0.780 1)" x="0" y="0" font-size="8.43" fill="#006464" stroke="#006464" stroke-width="0.45" textLength="20.51" lengthAdjust="spacing" >GND</text>
<circle cx="576.50" cy="228.50" r="2.10" stroke="#009600" stroke-width="0.00" fill="#009600"/>
<circle cx="576.50" cy="287.50" r="2.10" stroke="#009600" stroke-width="0.00" fill="#009600"/>
<circle cx="734.50" cy="228.50" r="2.10" stroke="#009600" stroke-width="0.00" fill="#009600"/>
<circle cx="779.50" cy="228.50" r="2.10" stroke="#009600" stroke-width="0.00" fill="#009600"/>
<circle cx="779.50" cy="264.50" r="2.10" stroke="#009600" stroke-width="0.00" fill="#009600"/>
<circle cx="819.50" cy="321.50" r="2.10" stroke="#009600" stroke-width="0.00" fill="#009600"/>
<circle cx="901.50" cy="456.50" r="2.10" stroke="#009600" stroke-width="0.00" fill="#009600"/>
<circle cx="977.50" cy="456.50" r="2.10" stroke="#009600" stroke-width="0.00" fill="#009600"/>
<circle cx="901.50" cy="504.50" r="2.10" stroke="#009600" stroke-width="0.00" fill="#009600"/>
</svg></div></body></html>
